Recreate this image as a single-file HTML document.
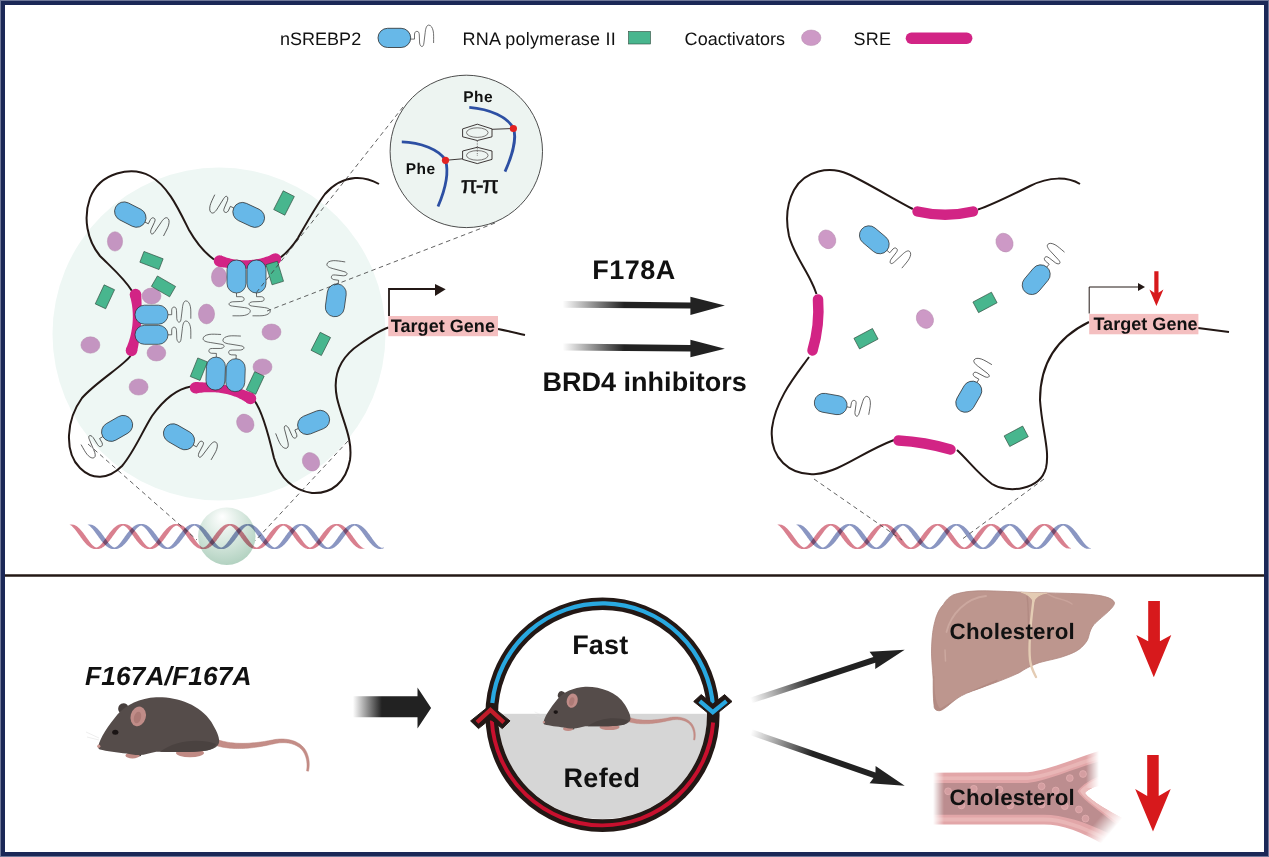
<!DOCTYPE html>
<html><head><meta charset="utf-8">
<style>
html,body{margin:0;padding:0;background:#fff;}
body{width:1269px;height:857px;overflow:hidden;}
svg{display:block;font-family:"Liberation Sans",sans-serif;text-rendering:geometricPrecision;}
</style></head>
<body>
<svg width="1269" height="857" viewBox="0 0 1269 857">
<defs>
  <rect id="cap" x="-16.5" y="-9.5" width="33" height="19" rx="9.5" fill="#67b8e8" stroke="#2b2b2b" stroke-width="0.7"/>
  <path id="sq" d="M0 0 H3.7 V-5 C4.2 -7.5 5.2 -7.6 6.3 -7.6 C7.7 -7.6 8.4 -6.5 8.5 -4 L8.8 4 C9.2 6.5 10.2 7.5 11.2 7.5 C12.2 7.5 12.9 6 13.1 4 L14.4 -6.5 C14.8 -11 16 -13.8 17.9 -13.8 C20.2 -13.8 21.6 -11.5 22.4 -8 C23 -5 22.8 -1 22.8 4" fill="none" stroke="#333" stroke-width="0.7"/>
  <linearGradient id="fadeR" x1="0" y1="0" x2="1" y2="0">
    <stop offset="0" stop-color="#222" stop-opacity="0"/>
    <stop offset="0.38" stop-color="#222" stop-opacity="1"/>
    <stop offset="1" stop-color="#222" stop-opacity="1"/>
  </linearGradient>
  <linearGradient id="fadeR2" x1="0" y1="0" x2="1" y2="0">
    <stop offset="0" stop-color="#222" stop-opacity="0"/>
    <stop offset="0.38" stop-color="#222" stop-opacity="1"/>
    <stop offset="1" stop-color="#222" stop-opacity="1"/>
  </linearGradient>
  <linearGradient id="fadeB" x1="0" y1="0" x2="1" y2="0">
    <stop offset="0" stop-color="#222" stop-opacity="0"/>
    <stop offset="0.37" stop-color="#222" stop-opacity="1"/>
    <stop offset="1" stop-color="#222" stop-opacity="1"/>
  </linearGradient>
  <linearGradient id="fadeO" x1="0" y1="0" x2="1" y2="0">
    <stop offset="0" stop-color="#222" stop-opacity="0"/>
    <stop offset="0.4" stop-color="#222" stop-opacity="1"/>
    <stop offset="1" stop-color="#222" stop-opacity="1"/>
  </linearGradient>
  <linearGradient id="fadeW" x1="0" y1="0" x2="1" y2="0">
    <stop offset="0" stop-color="#fff" stop-opacity="1"/>
    <stop offset="1" stop-color="#fff" stop-opacity="0"/>
  </linearGradient>
  <linearGradient id="fadeW2" x1="0" y1="0" x2="1" y2="0">
    <stop offset="0" stop-color="#fff" stop-opacity="0"/>
    <stop offset="1" stop-color="#fff" stop-opacity="1"/>
  </linearGradient>
  <linearGradient id="fadeW3" x1="0" y1="0" x2="1" y2="0.6">
    <stop offset="0" stop-color="#fff" stop-opacity="0"/>
    <stop offset="1" stop-color="#fff" stop-opacity="1"/>
  </linearGradient>
  <linearGradient id="mL" gradientUnits="userSpaceOnUse" x1="933" y1="0" x2="944" y2="0">
    <stop offset="0" stop-color="#000"/><stop offset="1" stop-color="#fff"/>
  </linearGradient>
  <linearGradient id="mU" gradientUnits="userSpaceOnUse" x1="1086" y1="0" x2="1099" y2="0">
    <stop offset="0" stop-color="#fff"/><stop offset="1" stop-color="#000"/>
  </linearGradient>
  <linearGradient id="mD" gradientUnits="userSpaceOnUse" x1="1098" y1="819" x2="1112" y2="831">
    <stop offset="0" stop-color="#fff"/><stop offset="1" stop-color="#000"/>
  </linearGradient>
  <radialGradient id="sph" cx="0.45" cy="0.35" r="0.7" fx="0.42" fy="0.15">
    <stop offset="0" stop-color="#ffffff" stop-opacity="0.9"/>
    <stop offset="0.5" stop-color="#d4e6dc" stop-opacity="0.9"/>
    <stop offset="1" stop-color="#a9ccb9" stop-opacity="0.95"/>
  </radialGradient>
</defs>
<rect x="0" y="0" width="1269" height="857" fill="#fff"/>
<text x="280" y="44.6" font-size="18" font-weight="normal" font-style="normal" fill="#111" textLength="81.15" lengthAdjust="spacing">nSREBP2</text>
<text x="462.6" y="44.6" font-size="18" font-weight="normal" font-style="normal" fill="#111" textLength="153.06" lengthAdjust="spacing">RNA polymerase II</text>
<text x="684.6" y="44.6" font-size="18" font-weight="normal" font-style="normal" fill="#111" textLength="100.45" lengthAdjust="spacing">Coactivators</text>
<text x="853.4" y="44.6" font-size="18" font-weight="normal" font-style="normal" fill="#111" textLength="37.52" lengthAdjust="spacing">SRE</text>
<rect x="378" y="28.3" width="32.7" height="19.2" rx="9.6" fill="#67b8e8" stroke="#2b2b2b" stroke-width="0.8"/>
<path d="M410.8 39.1 H414.5 V34 C415 31.5 416 31.4 417.1 31.4 C418.5 31.4 419.2 32.5 419.3 35 L419.6 43 C420 45.5 421 46.5 422 46.5 C423 46.5 423.7 45 423.9 43 L425.2 32.5 C425.6 28 426.8 25.1 428.7 25.1 C431 25.1 432.4 27.5 433.2 31 C433.8 34 433.6 38 433.6 43" fill="none" stroke="#333" stroke-width="0.7"/>
<rect x="628.5" y="31.5" width="22" height="12.5" fill="#48b68e" stroke="#2e4a3c" stroke-width="0.6"/>
<ellipse cx="811.2" cy="37.8" rx="9.7" ry="7.8" fill="#cd99c6" stroke="#b48aad" stroke-width="0.5"/>
<rect x="905.7" y="32.6" width="66.7" height="11.3" rx="5.65" fill="#d22485"/>
<circle cx="219" cy="334" r="166.5" fill="#eef7f4"/>
<circle cx="226.8" cy="536.3" r="28.7" fill="url(#sph)"/>
<path d="M69.70 524.71 L70.11 524.65 L70.54 524.60 L70.98 524.57 L71.43 524.55 L71.90 524.56 L72.38 524.59 L72.88 524.63 L73.39 524.70 L73.92 524.80 L74.45 524.91 L74.94 525.15 L75.42 525.41 L75.90 525.70 L76.38 526.02 L76.86 526.35 L77.33 526.71 L77.80 527.08 L78.26 527.48 L78.73 527.90 L79.18 528.33 L79.64 528.78 L80.09 529.24 L80.53 529.72 L80.97 530.21 L81.41 530.71 L81.84 531.22 L82.27 531.74 L82.70 532.27 L83.12 532.81 L83.54 533.35 L83.95 533.89 L84.36 534.44 L84.76 534.99 L85.16 535.54 L85.56 536.09 L85.95 536.64 L86.33 537.19 L86.72 537.73 L87.09 538.26 L87.47 538.79 L87.84 539.31 L88.20 539.82 L88.56 540.33 L88.92 540.82 L89.27 541.30 L89.62 541.76 L89.97 542.22 L90.31 542.66 L90.65 543.08 L90.98 543.49 L91.31 543.88 L91.64 544.25 L91.96 544.60 L92.28 544.94 L92.60 545.26 L92.92 545.56 L93.23 545.84 L93.55 546.10 L93.86 546.34 L94.17 546.56 L94.49 546.77 L94.81 546.95 L95.13 547.11 L95.46 547.26 L95.79 547.38 L96.14 547.49 L96.49 547.53 L96.84 547.44 L97.17 547.32 L97.51 547.19 L97.83 547.03 L98.15 546.86 L98.47 546.67 L98.78 546.45 L99.10 546.22 L99.41 545.97 L99.72 545.70 L100.04 545.41 L100.36 545.10 L100.68 544.77 L101.00 544.43 L101.32 544.06 L101.65 543.68 L101.98 543.28 L102.32 542.87 L102.66 542.44 L103.00 541.99 L103.35 541.53 L103.70 541.06 L104.06 540.57 L104.42 540.08 L104.78 539.57 L105.15 539.05 L105.52 538.53 L105.90 537.99 L106.28 537.46 L106.66 536.91 L107.05 536.37 L107.44 535.82 L107.84 535.27 L108.24 534.72 L108.65 534.17 L109.06 533.62 L109.47 533.08 L109.89 532.54 L110.31 532.01 L110.74 531.48 L111.17 530.97 L111.61 530.46 L112.05 529.96 L112.49 529.48 L112.94 529.01 L113.39 528.55 L113.85 528.11 L114.31 527.69 L114.77 527.28 L115.24 526.89 L115.71 526.53 L116.18 526.18 L116.66 525.86 L117.14 525.56 L117.62 525.28 L118.10 525.03 L118.59 524.80 L119.07 524.61 L119.56 524.44 L120.05 524.30 L120.53 524.19 L121.01 524.12 L121.49 524.07 L121.96 524.05 L122.42 524.07 L122.88 524.12 L123.32 524.12 L123.78 524.07 L124.24 524.05 L124.71 524.07 L125.19 524.12 L125.67 524.19 L126.15 524.30 L126.64 524.44 L127.13 524.61 L127.61 524.80 L128.10 525.03 L128.58 525.28 L129.06 525.56 L129.54 525.86 L130.02 526.18 L130.49 526.53 L130.96 526.89 L131.43 527.28 L131.89 527.69 L132.35 528.11 L132.81 528.55 L133.26 529.01 L133.71 529.48 L134.15 529.96 L134.59 530.46 L135.03 530.97 L135.46 531.48 L135.89 532.01 L136.31 532.54 L136.73 533.08 L137.14 533.62 L137.55 534.17 L137.96 534.72 L138.36 535.27 L138.76 535.82 L139.15 536.37 L139.54 536.91 L139.92 537.46 L140.30 537.99 L140.68 538.53 L141.05 539.05 L141.42 539.57 L141.78 540.08 L142.14 540.57 L142.50 541.06 L142.85 541.53 L143.20 541.99 L143.54 542.44 L143.88 542.87 L144.22 543.28 L144.55 543.68 L144.88 544.06 L145.20 544.43 L145.52 544.77 L145.84 545.10 L146.16 545.41 L146.48 545.70 L146.79 545.97 L147.10 546.22 L147.42 546.45 L147.73 546.67 L148.05 546.86 L148.37 547.03 L148.69 547.19 L149.03 547.32 L149.36 547.44 L149.71 547.53 L150.06 547.49 L150.41 547.38 L150.74 547.26 L151.07 547.11 L151.39 546.95 L151.71 546.77 L152.03 546.56 L152.34 546.34 L152.65 546.10 L152.97 545.84 L153.28 545.56 L153.60 545.26 L153.92 544.94 L154.24 544.60 L154.56 544.25 L154.89 543.88 L155.22 543.49 L155.55 543.08 L155.89 542.66 L156.23 542.22 L156.58 541.76 L156.93 541.30 L157.28 540.82 L157.64 540.33 L158.00 539.82 L158.36 539.31 L158.73 538.79 L159.11 538.26 L159.48 537.73 L159.87 537.19 L160.25 536.64 L160.64 536.09 L161.04 535.54 L161.44 534.99 L161.84 534.44 L162.25 533.89 L162.66 533.35 L163.08 532.81 L163.50 532.27 L163.93 531.74 L164.36 531.22 L164.79 530.71 L165.23 530.21 L165.67 529.72 L166.11 529.24 L166.56 528.78 L167.02 528.33 L167.47 527.90 L167.94 527.48 L168.40 527.08 L168.87 526.71 L169.34 526.35 L169.82 526.02 L170.30 525.70 L170.78 525.41 L171.26 525.15 L171.75 524.91 L172.23 524.70 L172.72 524.52 L173.20 524.37 L173.69 524.24 L174.17 524.15 L174.65 524.09 L175.12 524.06 L175.59 524.06 L176.05 524.09 L176.50 524.15 L176.95 524.09 L177.41 524.06 L177.88 524.06 L178.35 524.09 L178.83 524.15 L179.31 524.24 L179.80 524.37 L180.28 524.52 L180.77 524.70 L181.25 524.91 L181.74 525.15 L182.22 525.41 L182.70 525.70 L183.18 526.02 L183.66 526.35 L184.13 526.71 L184.60 527.08 L185.06 527.48 L185.53 527.90 L185.98 528.33 L186.44 528.78 L186.89 529.24 L187.33 529.72 L187.77 530.21 L188.21 530.71 L188.64 531.22 L189.07 531.74 L189.50 532.27 L189.92 532.81 L190.34 533.35 L190.75 533.89 L191.16 534.44 L191.56 534.99 L191.96 535.54 L192.36 536.09 L192.75 536.64 L193.13 537.19 L193.52 537.73 L193.89 538.26 L194.27 538.79 L194.64 539.31 L195.00 539.82 L195.36 540.33 L195.72 540.82 L196.07 541.30 L196.42 541.76 L196.77 542.22 L197.11 542.66 L197.45 543.08 L197.78 543.49 L198.11 543.88 L198.44 544.25 L198.76 544.60 L199.08 544.94 L199.40 545.26 L199.72 545.56 L200.03 545.84 L200.35 546.10 L200.66 546.34 L200.97 546.56 L201.29 546.77 L201.61 546.95 L201.93 547.11 L202.26 547.26 L202.59 547.38 L202.94 547.49 L203.29 547.53 L203.64 547.44 L203.97 547.32 L204.31 547.19 L204.63 547.03 L204.95 546.86 L205.27 546.67 L205.58 546.45 L205.90 546.22 L206.21 545.97 L206.52 545.70 L206.84 545.41 L207.16 545.10 L207.48 544.77 L207.80 544.43 L208.12 544.06 L208.45 543.68 L208.78 543.28 L209.12 542.87 L209.46 542.44 L209.80 541.99 L210.15 541.53 L210.50 541.06 L210.86 540.57 L211.22 540.08 L211.58 539.57 L211.95 539.05 L212.32 538.53 L212.70 537.99 L213.08 537.46 L213.46 536.91 L213.85 536.37 L214.24 535.82 L214.64 535.27 L215.04 534.72 L215.45 534.17 L215.86 533.62 L216.27 533.08 L216.69 532.54 L217.11 532.01 L217.54 531.48 L217.97 530.97 L218.41 530.46 L218.85 529.96 L219.29 529.48 L219.74 529.01 L220.19 528.55 L220.65 528.11 L221.11 527.69 L221.57 527.28 L222.04 526.89 L222.51 526.53 L222.98 526.18 L223.46 525.86 L223.94 525.56 L224.42 525.28 L224.90 525.03 L225.39 524.80 L225.87 524.61 L226.36 524.44 L226.85 524.30 L227.33 524.19 L227.81 524.12 L228.29 524.07 L228.76 524.05 L229.22 524.07 L229.68 524.12 L230.12 524.12 L230.58 524.07 L231.04 524.05 L231.51 524.07 L231.99 524.12 L232.47 524.19 L232.95 524.30 L233.44 524.44 L233.93 524.61 L234.41 524.80 L234.90 525.03 L235.38 525.28 L235.86 525.56 L236.34 525.86 L236.82 526.18 L237.29 526.53 L237.76 526.89 L238.23 527.28 L238.69 527.69 L239.15 528.11 L239.61 528.55 L240.06 529.01 L240.51 529.48 L240.95 529.96 L241.39 530.46 L241.83 530.97 L242.26 531.48 L242.69 532.01 L243.11 532.54 L243.53 533.08 L243.94 533.62 L244.35 534.17 L244.76 534.72 L245.16 535.27 L245.56 535.82 L245.95 536.37 L246.34 536.91 L246.72 537.46 L247.10 537.99 L247.48 538.53 L247.85 539.05 L248.22 539.57 L248.58 540.08 L248.94 540.57 L249.30 541.06 L249.65 541.53 L250.00 541.99 L250.34 542.44 L250.68 542.87 L251.02 543.28 L251.35 543.68 L251.68 544.06 L252.00 544.43 L252.32 544.77 L252.64 545.10 L252.96 545.41 L253.28 545.70 L253.59 545.97 L253.90 546.22 L254.22 546.45 L254.53 546.67 L254.85 546.86 L255.17 547.03 L255.49 547.19 L255.83 547.32 L256.16 547.44 L256.51 547.53 L256.86 547.49 L257.21 547.38 L257.54 547.26 L257.87 547.11 L258.19 546.95 L258.51 546.77 L258.83 546.56 L259.14 546.34 L259.45 546.10 L259.77 545.84 L260.08 545.56 L260.40 545.26 L260.72 544.94 L261.04 544.60 L261.36 544.25 L261.69 543.88 L262.02 543.49 L262.35 543.08 L262.69 542.66 L263.03 542.22 L263.38 541.76 L263.73 541.30 L264.08 540.82 L264.44 540.33 L264.80 539.82 L265.16 539.31 L265.53 538.79 L265.91 538.26 L266.28 537.73 L266.67 537.19 L267.05 536.64 L267.44 536.09 L267.84 535.54 L268.24 534.99 L268.64 534.44 L269.05 533.89 L269.46 533.35 L269.88 532.81 L270.30 532.27 L270.73 531.74 L271.16 531.22 L271.59 530.71 L272.03 530.21 L272.47 529.72 L272.91 529.24 L273.36 528.78 L273.82 528.33 L274.27 527.90 L274.74 527.48 L275.20 527.08 L275.67 526.71 L276.14 526.35 L276.62 526.02 L277.10 525.70 L277.58 525.41 L278.06 525.15 L278.55 524.91 L279.03 524.70 L279.52 524.52 L280.00 524.37 L280.49 524.24 L280.97 524.15 L281.45 524.09 L281.92 524.06 L282.39 524.06 L282.85 524.09 L283.30 524.15 L283.75 524.09 L284.21 524.06 L284.68 524.06 L285.15 524.09 L285.63 524.15 L286.11 524.24 L286.60 524.37 L287.08 524.52 L287.57 524.70 L288.05 524.91 L288.54 525.15 L289.02 525.41 L289.50 525.70 L289.98 526.02 L290.46 526.35 L290.93 526.71 L291.40 527.08 L291.86 527.48 L292.33 527.90 L292.78 528.33 L293.24 528.78 L293.69 529.24 L294.13 529.72 L294.57 530.21 L295.01 530.71 L295.44 531.22 L295.87 531.74 L296.30 532.27 L296.72 532.81 L297.14 533.35 L297.55 533.89 L297.96 534.44 L298.36 534.99 L298.76 535.54 L299.16 536.09 L299.55 536.64 L299.93 537.19 L300.32 537.73 L300.69 538.26 L301.07 538.79 L301.44 539.31 L301.80 539.82 L302.16 540.33 L302.52 540.82 L302.87 541.30 L303.22 541.76 L303.57 542.22 L303.91 542.66 L304.25 543.08 L304.58 543.49 L304.91 543.88 L305.24 544.25 L305.56 544.60 L305.88 544.94 L306.20 545.26 L306.52 545.56 L306.83 545.84 L307.15 546.10 L307.46 546.34 L307.77 546.56 L308.09 546.77 L308.41 546.95 L308.73 547.11 L309.06 547.26 L309.39 547.38 L309.74 547.49 L310.09 547.53 L310.44 547.44 L310.77 547.32 L311.11 547.19 L311.43 547.03 L311.75 546.86 L312.07 546.67 L312.38 546.45 L312.70 546.22 L313.01 545.97 L313.32 545.70 L313.64 545.41 L313.96 545.10 L314.28 544.77 L314.60 544.43 L314.92 544.06 L315.25 543.68 L315.58 543.28 L315.92 542.87 L316.26 542.44 L316.60 541.99 L316.95 541.53 L317.30 541.06 L317.66 540.57 L318.02 540.08 L318.38 539.57 L318.75 539.05 L319.12 538.53 L319.50 537.99 L319.88 537.46 L320.26 536.91 L320.65 536.37 L321.04 535.82 L321.44 535.27 L321.84 534.72 L322.25 534.17 L322.66 533.62 L323.07 533.08 L323.49 532.54 L323.91 532.01 L324.34 531.48 L324.77 530.97 L325.21 530.46 L325.65 529.96 L326.09 529.48 L326.54 529.01 L326.99 528.55 L327.45 528.11 L327.91 527.69 L328.37 527.28 L328.84 526.89 L329.31 526.53 L329.78 526.18 L330.26 525.86 L330.74 525.56 L331.22 525.28 L331.70 525.03 L332.19 524.80 L332.67 524.61 L333.16 524.44 L333.65 524.30 L334.13 524.19 L334.61 524.12 L335.09 524.07 L335.56 524.05 L336.02 524.07 L336.48 524.12 L336.92 524.12 L337.38 524.07 L337.84 524.05 L338.31 524.07 L338.79 524.12 L339.27 524.19 L339.75 524.30 L340.24 524.44 L340.73 524.61 L341.21 524.80 L341.70 525.03 L342.18 525.28 L342.66 525.56 L343.14 525.86 L343.62 526.18 L344.09 526.53 L344.56 526.89 L345.03 527.28 L345.49 527.69 L345.95 528.11 L346.41 528.55 L346.86 529.01 L347.31 529.48 L347.75 529.96 L348.19 530.46 L348.63 530.97 L349.06 531.48 L349.49 532.01 L349.91 532.54 L350.33 533.08 L350.74 533.62 L351.15 534.17 L351.56 534.72 L351.96 535.27 L352.36 535.82 L352.75 536.37 L353.14 536.91 L353.52 537.46 L353.90 537.99 L354.28 538.53 L354.65 539.05 L355.02 539.57 L355.38 540.08 L355.74 540.57 L356.10 541.06 L356.45 541.53 L356.80 541.99 L357.14 542.44 L357.48 542.87 L357.82 543.28 L358.15 543.68 L358.48 544.06 L358.80 544.43 L359.12 544.77 L359.44 545.10 L359.76 545.41 L360.08 545.70 L360.39 545.97 L360.70 546.22 L361.02 546.45 L361.30 546.75 L361.59 547.03 L361.90 547.27 L362.23 547.49 L362.58 547.67 L362.93 547.82 L363.31 547.93 L363.69 547.97 L364.07 547.98 L364.47 547.97 L364.53 548.33 L364.13 548.44 L363.71 548.51 L363.29 548.57 L362.87 548.64 L362.42 548.70 L361.97 548.74 L361.50 548.76 L361.01 548.76 L360.50 548.74 L359.98 548.70 L359.50 548.54 L359.01 548.35 L358.52 548.13 L358.04 547.89 L357.56 547.62 L357.08 547.32 L356.60 547.00 L356.12 546.66 L355.65 546.30 L355.18 545.92 L354.72 545.52 L354.26 545.10 L353.80 544.66 L353.35 544.21 L352.90 543.74 L352.46 543.26 L352.02 542.77 L351.58 542.26 L351.15 541.75 L350.72 541.23 L350.30 540.69 L349.88 540.16 L349.46 539.62 L349.05 539.07 L348.64 538.52 L348.24 537.97 L347.84 537.42 L347.45 536.87 L347.06 536.32 L346.67 535.78 L346.29 535.24 L345.91 534.71 L345.54 534.18 L345.17 533.66 L344.81 533.15 L344.45 532.65 L344.09 532.16 L343.74 531.68 L343.39 531.22 L343.05 530.77 L342.71 530.34 L342.37 529.92 L342.04 529.51 L341.71 529.13 L341.38 528.76 L341.06 528.41 L340.74 528.08 L340.42 527.77 L340.10 527.47 L339.79 527.20 L339.47 526.94 L339.16 526.70 L338.85 526.48 L338.53 526.29 L338.21 526.11 L337.89 525.95 L337.56 525.81 L337.22 525.69 L336.88 525.59 L336.52 525.59 L336.18 525.69 L335.84 525.81 L335.51 525.95 L335.19 526.11 L334.87 526.29 L334.55 526.48 L334.24 526.70 L333.93 526.94 L333.61 527.20 L333.30 527.47 L332.98 527.77 L332.66 528.08 L332.34 528.41 L332.02 528.76 L331.69 529.13 L331.36 529.51 L331.03 529.92 L330.69 530.34 L330.35 530.77 L330.01 531.22 L329.66 531.68 L329.31 532.16 L328.95 532.65 L328.59 533.15 L328.23 533.66 L327.86 534.18 L327.49 534.71 L327.11 535.24 L326.73 535.78 L326.34 536.32 L325.95 536.87 L325.56 537.42 L325.16 537.97 L324.76 538.52 L324.35 539.07 L323.94 539.62 L323.52 540.16 L323.10 540.69 L322.68 541.23 L322.25 541.75 L321.82 542.26 L321.38 542.77 L320.94 543.26 L320.50 543.74 L320.05 544.21 L319.60 544.66 L319.14 545.10 L318.68 545.52 L318.22 545.92 L317.75 546.30 L317.28 546.66 L316.80 547.00 L316.32 547.32 L315.84 547.62 L315.36 547.89 L314.88 548.13 L314.39 548.35 L313.90 548.54 L313.42 548.70 L312.93 548.83 L312.45 548.93 L311.97 549.00 L311.49 549.04 L311.03 549.04 L310.56 549.02 L310.11 548.97 L309.66 549.00 L309.21 549.04 L308.74 549.04 L308.27 549.02 L307.79 548.97 L307.31 548.88 L306.83 548.77 L306.34 548.62 L305.85 548.45 L305.37 548.24 L304.88 548.01 L304.40 547.75 L303.92 547.47 L303.44 547.17 L302.96 546.84 L302.49 546.48 L302.02 546.11 L301.55 545.72 L301.09 545.31 L300.63 544.88 L300.18 544.44 L299.73 543.98 L299.28 543.50 L298.84 543.01 L298.40 542.52 L297.96 542.01 L297.53 541.49 L297.11 540.96 L296.68 540.43 L296.27 539.89 L295.85 539.34 L295.44 538.80 L295.04 538.25 L294.64 537.70 L294.24 537.14 L293.85 536.60 L293.46 536.05 L293.08 535.51 L292.70 534.97 L292.33 534.44 L291.96 533.92 L291.59 533.40 L291.23 532.90 L290.87 532.40 L290.51 531.92 L290.16 531.45 L289.82 530.99 L289.47 530.55 L289.14 530.13 L288.80 529.71 L288.47 529.32 L288.14 528.94 L287.82 528.58 L287.50 528.24 L287.18 527.92 L286.86 527.62 L286.55 527.33 L286.23 527.07 L285.92 526.82 L285.60 526.59 L285.29 526.38 L284.97 526.19 L284.65 526.02 L284.32 525.87 L283.99 525.75 L283.65 525.64 L283.30 525.55 L282.95 525.64 L282.61 525.75 L282.28 525.87 L281.95 526.02 L281.63 526.19 L281.31 526.38 L281.00 526.59 L280.68 526.82 L280.37 527.07 L280.05 527.33 L279.74 527.62 L279.42 527.92 L279.10 528.24 L278.78 528.58 L278.46 528.94 L278.13 529.32 L277.80 529.71 L277.46 530.13 L277.13 530.55 L276.78 530.99 L276.44 531.45 L276.09 531.92 L275.73 532.40 L275.37 532.90 L275.01 533.40 L274.64 533.92 L274.27 534.44 L273.90 534.97 L273.52 535.51 L273.14 536.05 L272.75 536.60 L272.36 537.14 L271.96 537.70 L271.56 538.25 L271.16 538.80 L270.75 539.34 L270.33 539.89 L269.92 540.43 L269.49 540.96 L269.07 541.49 L268.64 542.01 L268.20 542.52 L267.76 543.01 L267.32 543.50 L266.87 543.98 L266.42 544.44 L265.97 544.88 L265.51 545.31 L265.05 545.72 L264.58 546.11 L264.11 546.48 L263.64 546.84 L263.16 547.17 L262.68 547.47 L262.20 547.75 L261.72 548.01 L261.23 548.24 L260.75 548.45 L260.26 548.62 L259.77 548.77 L259.29 548.88 L258.81 548.97 L258.33 549.02 L257.86 549.04 L257.39 549.04 L256.94 549.00 L256.49 548.97 L256.04 549.02 L255.57 549.04 L255.11 549.04 L254.63 549.00 L254.15 548.93 L253.67 548.83 L253.18 548.70 L252.70 548.54 L252.21 548.35 L251.72 548.13 L251.24 547.89 L250.76 547.62 L250.28 547.32 L249.80 547.00 L249.32 546.66 L248.85 546.30 L248.38 545.92 L247.92 545.52 L247.46 545.10 L247.00 544.66 L246.55 544.21 L246.10 543.74 L245.66 543.26 L245.22 542.77 L244.78 542.26 L244.35 541.75 L243.92 541.23 L243.50 540.69 L243.08 540.16 L242.66 539.62 L242.25 539.07 L241.84 538.52 L241.44 537.97 L241.04 537.42 L240.65 536.87 L240.26 536.32 L239.87 535.78 L239.49 535.24 L239.11 534.71 L238.74 534.18 L238.37 533.66 L238.01 533.15 L237.65 532.65 L237.29 532.16 L236.94 531.68 L236.59 531.22 L236.25 530.77 L235.91 530.34 L235.57 529.92 L235.24 529.51 L234.91 529.13 L234.58 528.76 L234.26 528.41 L233.94 528.08 L233.62 527.77 L233.30 527.47 L232.99 527.20 L232.67 526.94 L232.36 526.70 L232.05 526.48 L231.73 526.29 L231.41 526.11 L231.09 525.95 L230.76 525.81 L230.42 525.69 L230.08 525.59 L229.72 525.59 L229.38 525.69 L229.04 525.81 L228.71 525.95 L228.39 526.11 L228.07 526.29 L227.75 526.48 L227.44 526.70 L227.13 526.94 L226.81 527.20 L226.50 527.47 L226.18 527.77 L225.86 528.08 L225.54 528.41 L225.22 528.76 L224.89 529.13 L224.56 529.51 L224.23 529.92 L223.89 530.34 L223.55 530.77 L223.21 531.22 L222.86 531.68 L222.51 532.16 L222.15 532.65 L221.79 533.15 L221.43 533.66 L221.06 534.18 L220.69 534.71 L220.31 535.24 L219.93 535.78 L219.54 536.32 L219.15 536.87 L218.76 537.42 L218.36 537.97 L217.96 538.52 L217.55 539.07 L217.14 539.62 L216.72 540.16 L216.30 540.69 L215.88 541.23 L215.45 541.75 L215.02 542.26 L214.58 542.77 L214.14 543.26 L213.70 543.74 L213.25 544.21 L212.80 544.66 L212.34 545.10 L211.88 545.52 L211.42 545.92 L210.95 546.30 L210.48 546.66 L210.00 547.00 L209.52 547.32 L209.04 547.62 L208.56 547.89 L208.08 548.13 L207.59 548.35 L207.10 548.54 L206.62 548.70 L206.13 548.83 L205.65 548.93 L205.17 549.00 L204.69 549.04 L204.23 549.04 L203.76 549.02 L203.31 548.97 L202.86 549.00 L202.41 549.04 L201.94 549.04 L201.47 549.02 L200.99 548.97 L200.51 548.88 L200.03 548.77 L199.54 548.62 L199.05 548.45 L198.57 548.24 L198.08 548.01 L197.60 547.75 L197.12 547.47 L196.64 547.17 L196.16 546.84 L195.69 546.48 L195.22 546.11 L194.75 545.72 L194.29 545.31 L193.83 544.88 L193.38 544.44 L192.93 543.98 L192.48 543.50 L192.04 543.01 L191.60 542.52 L191.16 542.01 L190.73 541.49 L190.31 540.96 L189.88 540.43 L189.47 539.89 L189.05 539.34 L188.64 538.80 L188.24 538.25 L187.84 537.70 L187.44 537.14 L187.05 536.60 L186.66 536.05 L186.28 535.51 L185.90 534.97 L185.53 534.44 L185.16 533.92 L184.79 533.40 L184.43 532.90 L184.07 532.40 L183.71 531.92 L183.36 531.45 L183.02 530.99 L182.67 530.55 L182.34 530.13 L182.00 529.71 L181.67 529.32 L181.34 528.94 L181.02 528.58 L180.70 528.24 L180.38 527.92 L180.06 527.62 L179.75 527.33 L179.43 527.07 L179.12 526.82 L178.80 526.59 L178.49 526.38 L178.17 526.19 L177.85 526.02 L177.52 525.87 L177.19 525.75 L176.85 525.64 L176.50 525.55 L176.15 525.64 L175.81 525.75 L175.48 525.87 L175.15 526.02 L174.83 526.19 L174.51 526.38 L174.20 526.59 L173.88 526.82 L173.57 527.07 L173.25 527.33 L172.94 527.62 L172.62 527.92 L172.30 528.24 L171.98 528.58 L171.66 528.94 L171.33 529.32 L171.00 529.71 L170.66 530.13 L170.33 530.55 L169.98 530.99 L169.64 531.45 L169.29 531.92 L168.93 532.40 L168.57 532.90 L168.21 533.40 L167.84 533.92 L167.47 534.44 L167.10 534.97 L166.72 535.51 L166.34 536.05 L165.95 536.60 L165.56 537.14 L165.16 537.70 L164.76 538.25 L164.36 538.80 L163.95 539.34 L163.53 539.89 L163.12 540.43 L162.69 540.96 L162.27 541.49 L161.84 542.01 L161.40 542.52 L160.96 543.01 L160.52 543.50 L160.07 543.98 L159.62 544.44 L159.17 544.88 L158.71 545.31 L158.25 545.72 L157.78 546.11 L157.31 546.48 L156.84 546.84 L156.36 547.17 L155.88 547.47 L155.40 547.75 L154.92 548.01 L154.43 548.24 L153.95 548.45 L153.46 548.62 L152.97 548.77 L152.49 548.88 L152.01 548.97 L151.53 549.02 L151.06 549.04 L150.59 549.04 L150.14 549.00 L149.69 548.97 L149.24 549.02 L148.77 549.04 L148.31 549.04 L147.83 549.00 L147.35 548.93 L146.87 548.83 L146.38 548.70 L145.90 548.54 L145.41 548.35 L144.92 548.13 L144.44 547.89 L143.96 547.62 L143.48 547.32 L143.00 547.00 L142.52 546.66 L142.05 546.30 L141.58 545.92 L141.12 545.52 L140.66 545.10 L140.20 544.66 L139.75 544.21 L139.30 543.74 L138.86 543.26 L138.42 542.77 L137.98 542.26 L137.55 541.75 L137.12 541.23 L136.70 540.69 L136.28 540.16 L135.86 539.62 L135.45 539.07 L135.04 538.52 L134.64 537.97 L134.24 537.42 L133.85 536.87 L133.46 536.32 L133.07 535.78 L132.69 535.24 L132.31 534.71 L131.94 534.18 L131.57 533.66 L131.21 533.15 L130.85 532.65 L130.49 532.16 L130.14 531.68 L129.79 531.22 L129.45 530.77 L129.11 530.34 L128.77 529.92 L128.44 529.51 L128.11 529.13 L127.78 528.76 L127.46 528.41 L127.14 528.08 L126.82 527.77 L126.50 527.47 L126.19 527.20 L125.87 526.94 L125.56 526.70 L125.25 526.48 L124.93 526.29 L124.61 526.11 L124.29 525.95 L123.96 525.81 L123.62 525.69 L123.28 525.59 L122.92 525.59 L122.58 525.69 L122.24 525.81 L121.91 525.95 L121.59 526.11 L121.27 526.29 L120.95 526.48 L120.64 526.70 L120.33 526.94 L120.01 527.20 L119.70 527.47 L119.38 527.77 L119.06 528.08 L118.74 528.41 L118.42 528.76 L118.09 529.13 L117.76 529.51 L117.43 529.92 L117.09 530.34 L116.75 530.77 L116.41 531.22 L116.06 531.68 L115.71 532.16 L115.35 532.65 L114.99 533.15 L114.63 533.66 L114.26 534.18 L113.89 534.71 L113.51 535.24 L113.13 535.78 L112.74 536.32 L112.35 536.87 L111.96 537.42 L111.56 537.97 L111.16 538.52 L110.75 539.07 L110.34 539.62 L109.92 540.16 L109.50 540.69 L109.08 541.23 L108.65 541.75 L108.22 542.26 L107.78 542.77 L107.34 543.26 L106.90 543.74 L106.45 544.21 L106.00 544.66 L105.54 545.10 L105.08 545.52 L104.62 545.92 L104.15 546.30 L103.68 546.66 L103.20 547.00 L102.72 547.32 L102.24 547.62 L101.76 547.89 L101.28 548.13 L100.79 548.35 L100.30 548.54 L99.82 548.70 L99.33 548.83 L98.85 548.93 L98.37 549.00 L97.89 549.04 L97.43 549.04 L96.96 549.02 L96.51 548.97 L96.06 549.00 L95.61 549.04 L95.14 549.04 L94.67 549.02 L94.19 548.97 L93.71 548.88 L93.23 548.77 L92.74 548.62 L92.25 548.45 L91.77 548.24 L91.28 548.01 L90.80 547.75 L90.32 547.47 L89.84 547.17 L89.36 546.84 L88.89 546.48 L88.42 546.11 L87.95 545.72 L87.49 545.31 L87.03 544.88 L86.58 544.44 L86.13 543.98 L85.68 543.50 L85.24 543.01 L84.80 542.52 L84.36 542.01 L83.93 541.49 L83.51 540.96 L83.08 540.43 L82.67 539.89 L82.25 539.34 L81.84 538.80 L81.44 538.25 L81.04 537.70 L80.64 537.14 L80.25 536.60 L79.86 536.05 L79.48 535.51 L79.10 534.97 L78.73 534.44 L78.36 533.92 L77.99 533.40 L77.63 532.90 L77.27 532.40 L76.91 531.92 L76.56 531.45 L76.22 530.99 L75.87 530.55 L75.54 530.13 L75.20 529.71 L74.87 529.32 L74.54 528.94 L74.22 528.58 L73.90 528.24 L73.58 527.92 L73.26 527.62 L72.95 527.33 L72.68 526.97 L72.41 526.64 L72.12 526.32 L71.82 526.04 L71.50 525.79 L71.17 525.56 L70.82 525.37 L70.46 525.21 L70.09 525.08 L69.70 524.99Z" fill="#d9808f" style="mix-blend-mode:multiply"/><path d="M87.70 524.71 L88.11 524.65 L88.54 524.60 L88.98 524.57 L89.43 524.55 L89.90 524.56 L90.38 524.59 L90.88 524.63 L91.39 524.70 L91.92 524.80 L92.46 524.92 L92.95 525.15 L93.43 525.42 L93.91 525.71 L94.39 526.02 L94.86 526.36 L95.34 526.71 L95.81 527.09 L96.27 527.49 L96.73 527.91 L97.19 528.34 L97.65 528.79 L98.10 529.25 L98.54 529.73 L98.98 530.22 L99.42 530.72 L99.86 531.24 L100.29 531.76 L100.71 532.29 L101.13 532.82 L101.55 533.36 L101.96 533.91 L102.37 534.46 L102.77 535.01 L103.17 535.56 L103.57 536.11 L103.96 536.66 L104.35 537.21 L104.73 537.75 L105.11 538.28 L105.48 538.81 L105.85 539.33 L106.22 539.85 L106.58 540.35 L106.94 540.84 L107.29 541.32 L107.64 541.79 L107.98 542.24 L108.33 542.68 L108.66 543.10 L109.00 543.51 L109.33 543.90 L109.66 544.27 L109.98 544.62 L110.30 544.96 L110.62 545.27 L110.94 545.57 L111.25 545.85 L111.57 546.11 L111.88 546.35 L112.19 546.58 L112.51 546.78 L112.83 546.96 L113.15 547.12 L113.48 547.27 L113.82 547.39 L114.16 547.49 L114.51 547.52 L114.86 547.43 L115.20 547.32 L115.53 547.18 L115.85 547.02 L116.17 546.85 L116.49 546.65 L116.81 546.44 L117.12 546.20 L117.43 545.95 L117.75 545.68 L118.06 545.39 L118.38 545.08 L118.70 544.75 L119.03 544.40 L119.35 544.03 L119.68 543.65 L120.01 543.25 L120.35 542.83 L120.69 542.40 L121.03 541.95 L121.38 541.49 L121.73 541.02 L122.09 540.53 L122.45 540.03 L122.81 539.52 L123.18 539.00 L123.56 538.48 L123.93 537.94 L124.31 537.40 L124.70 536.86 L125.09 536.31 L125.48 535.76 L125.88 535.21 L126.28 534.66 L126.69 534.11 L127.10 533.56 L127.52 533.02 L127.93 532.48 L128.36 531.95 L128.79 531.43 L129.22 530.91 L129.66 530.40 L130.10 529.91 L130.54 529.42 L130.99 528.96 L131.44 528.50 L131.90 528.06 L132.36 527.64 L132.82 527.23 L133.29 526.85 L133.76 526.48 L134.24 526.14 L134.71 525.82 L135.19 525.52 L135.68 525.25 L136.16 525.00 L136.65 524.78 L137.14 524.58 L137.62 524.42 L138.11 524.29 L138.59 524.18 L139.07 524.11 L139.55 524.07 L140.02 524.05 L140.48 524.07 L140.94 524.12 L141.39 524.11 L141.84 524.07 L142.31 524.05 L142.78 524.07 L143.26 524.12 L143.74 524.21 L144.22 524.32 L144.71 524.46 L145.20 524.63 L145.68 524.83 L146.17 525.06 L146.65 525.32 L147.14 525.60 L147.61 525.90 L148.09 526.23 L148.57 526.58 L149.04 526.95 L149.50 527.34 L149.97 527.75 L150.43 528.18 L150.88 528.62 L151.33 529.08 L151.78 529.55 L152.22 530.04 L152.66 530.54 L153.10 531.05 L153.53 531.57 L153.96 532.09 L154.38 532.63 L154.80 533.17 L155.21 533.71 L155.62 534.26 L156.03 534.81 L156.43 535.36 L156.83 535.91 L157.22 536.46 L157.61 537.01 L157.99 537.55 L158.37 538.09 L158.75 538.62 L159.12 539.14 L159.48 539.66 L159.85 540.17 L160.21 540.66 L160.56 541.15 L160.91 541.62 L161.26 542.08 L161.60 542.52 L161.94 542.95 L162.28 543.36 L162.61 543.76 L162.94 544.13 L163.26 544.49 L163.58 544.84 L163.90 545.16 L164.22 545.47 L164.54 545.75 L164.85 546.02 L165.16 546.27 L165.48 546.50 L165.79 546.71 L166.11 546.90 L166.43 547.07 L166.76 547.22 L167.09 547.35 L167.43 547.46 L167.78 547.55 L168.13 547.47 L168.48 547.36 L168.81 547.23 L169.14 547.08 L169.46 546.91 L169.78 546.72 L170.09 546.52 L170.41 546.29 L170.72 546.04 L171.03 545.78 L171.35 545.49 L171.67 545.19 L171.98 544.87 L172.31 544.53 L172.63 544.17 L172.96 543.79 L173.29 543.40 L173.63 542.99 L173.97 542.56 L174.31 542.12 L174.65 541.66 L175.01 541.19 L175.36 540.71 L175.72 540.21 L176.08 539.71 L176.45 539.19 L176.82 538.67 L177.19 538.14 L177.57 537.60 L177.96 537.06 L178.35 536.51 L178.74 535.96 L179.13 535.41 L179.53 534.86 L179.94 534.31 L180.35 533.76 L180.76 533.22 L181.18 532.68 L181.60 532.14 L182.03 531.62 L182.46 531.10 L182.90 530.59 L183.33 530.09 L183.78 529.60 L184.23 529.13 L184.68 528.66 L185.13 528.22 L185.59 527.79 L186.05 527.38 L186.52 526.99 L186.99 526.61 L187.46 526.26 L187.94 525.93 L188.42 525.63 L188.90 525.34 L189.39 525.09 L189.87 524.86 L190.36 524.65 L190.85 524.48 L191.33 524.33 L191.82 524.22 L192.30 524.13 L192.78 524.08 L193.25 524.06 L193.71 524.06 L194.17 524.10 L194.62 524.13 L195.07 524.08 L195.54 524.06 L196.00 524.06 L196.48 524.10 L196.96 524.17 L197.44 524.27 L197.93 524.41 L198.42 524.57 L198.90 524.76 L199.39 524.98 L199.88 525.22 L200.36 525.49 L200.84 525.79 L201.32 526.11 L201.79 526.45 L202.26 526.81 L202.73 527.20 L203.20 527.60 L203.66 528.02 L204.12 528.46 L204.57 528.91 L205.02 529.38 L205.46 529.86 L205.90 530.36 L206.34 530.86 L206.77 531.38 L207.20 531.90 L207.63 532.43 L208.05 532.97 L208.46 533.51 L208.87 534.06 L209.28 534.61 L209.68 535.16 L210.08 535.71 L210.48 536.26 L210.87 536.81 L211.25 537.35 L211.63 537.89 L212.01 538.43 L212.38 538.95 L212.75 539.47 L213.12 539.98 L213.48 540.48 L213.83 540.97 L214.18 541.45 L214.53 541.91 L214.88 542.36 L215.22 542.79 L215.56 543.21 L215.89 543.61 L216.22 544.00 L216.54 544.37 L216.87 544.71 L217.19 545.05 L217.51 545.36 L217.82 545.65 L218.14 545.92 L218.45 546.18 L218.76 546.42 L219.08 546.63 L219.39 546.83 L219.71 547.01 L220.04 547.17 L220.37 547.30 L220.71 547.42 L221.05 547.52 L221.41 547.50 L221.75 547.40 L222.09 547.28 L222.42 547.14 L222.74 546.98 L223.06 546.80 L223.38 546.60 L223.69 546.38 L224.01 546.14 L224.32 545.88 L224.63 545.60 L224.95 545.30 L225.27 544.99 L225.59 544.65 L225.91 544.30 L226.24 543.93 L226.57 543.54 L226.90 543.14 L227.24 542.72 L227.58 542.28 L227.93 541.83 L228.28 541.36 L228.63 540.89 L228.99 540.40 L229.35 539.89 L229.71 539.38 L230.08 538.86 L230.46 538.33 L230.83 537.80 L231.22 537.26 L231.60 536.71 L231.99 536.16 L232.39 535.61 L232.79 535.06 L233.19 534.51 L233.60 533.96 L234.01 533.42 L234.43 532.87 L234.85 532.34 L235.27 531.81 L235.70 531.28 L236.14 530.77 L236.57 530.27 L237.02 529.78 L237.46 529.30 L237.91 528.83 L238.37 528.38 L238.82 527.95 L239.28 527.53 L239.75 527.13 L240.22 526.75 L240.69 526.39 L241.17 526.05 L241.64 525.74 L242.13 525.44 L242.61 525.18 L243.09 524.94 L243.58 524.72 L244.07 524.54 L244.56 524.38 L245.04 524.25 L245.52 524.16 L246.00 524.09 L246.48 524.06 L246.95 524.06 L247.41 524.09 L247.86 524.14 L248.31 524.09 L248.77 524.06 L249.23 524.06 L249.71 524.08 L250.18 524.14 L250.67 524.23 L251.15 524.35 L251.64 524.51 L252.13 524.69 L252.61 524.89 L253.10 525.13 L253.58 525.39 L254.07 525.68 L254.54 525.99 L255.02 526.32 L255.49 526.68 L255.96 527.05 L256.43 527.45 L256.89 527.87 L257.35 528.30 L257.80 528.74 L258.25 529.21 L258.70 529.68 L259.14 530.17 L259.58 530.68 L260.02 531.19 L260.45 531.71 L260.87 532.24 L261.29 532.77 L261.71 533.31 L262.12 533.86 L262.53 534.41 L262.94 534.96 L263.34 535.51 L263.73 536.06 L264.12 536.61 L264.51 537.15 L264.89 537.70 L265.27 538.23 L265.65 538.76 L266.02 539.28 L266.38 539.80 L266.75 540.30 L267.10 540.79 L267.46 541.27 L267.81 541.74 L268.15 542.20 L268.49 542.64 L268.83 543.06 L269.17 543.47 L269.50 543.86 L269.83 544.23 L270.15 544.59 L270.47 544.93 L270.79 545.25 L271.11 545.55 L271.42 545.83 L271.74 546.09 L272.05 546.33 L272.36 546.56 L272.68 546.76 L273.00 546.94 L273.32 547.11 L273.65 547.26 L273.98 547.38 L274.33 547.48 L274.68 547.53 L275.03 547.44 L275.37 547.33 L275.70 547.19 L276.02 547.04 L276.34 546.86 L276.66 546.67 L276.98 546.46 L277.29 546.23 L277.60 545.97 L277.92 545.70 L278.23 545.41 L278.55 545.11 L278.87 544.78 L279.19 544.43 L279.52 544.07 L279.85 543.69 L280.18 543.29 L280.52 542.87 L280.86 542.44 L281.20 542.00 L281.55 541.54 L281.90 541.06 L282.26 540.58 L282.62 540.08 L282.98 539.57 L283.35 539.05 L283.72 538.53 L284.10 537.99 L284.48 537.46 L284.86 536.91 L285.25 536.36 L285.64 535.81 L286.04 535.26 L286.44 534.71 L286.85 534.16 L287.26 533.62 L287.68 533.07 L288.10 532.53 L288.52 532.00 L288.95 531.47 L289.38 530.96 L289.81 530.45 L290.25 529.95 L290.70 529.47 L291.15 529.00 L291.60 528.54 L292.06 528.10 L292.52 527.68 L292.98 527.27 L293.45 526.88 L293.92 526.52 L294.39 526.17 L294.87 525.85 L295.35 525.55 L295.83 525.27 L296.32 525.02 L296.80 524.80 L297.29 524.60 L297.78 524.43 L298.26 524.30 L298.75 524.19 L299.23 524.11 L299.71 524.07 L300.18 524.05 L300.64 524.07 L301.09 524.12 L301.54 524.11 L302.00 524.07 L302.46 524.05 L302.93 524.07 L303.41 524.12 L303.89 524.20 L304.38 524.31 L304.86 524.45 L305.35 524.62 L305.84 524.81 L306.32 525.04 L306.81 525.29 L307.29 525.57 L307.77 525.87 L308.25 526.20 L308.72 526.55 L309.19 526.92 L309.66 527.30 L310.12 527.71 L310.58 528.14 L311.04 528.58 L311.49 529.04 L311.94 529.51 L312.38 529.99 L312.82 530.49 L313.26 531.00 L313.69 531.52 L314.12 532.04 L314.54 532.58 L314.96 533.12 L315.37 533.66 L315.78 534.21 L316.19 534.76 L316.59 535.31 L316.99 535.86 L317.38 536.41 L317.77 536.96 L318.15 537.50 L318.53 538.04 L318.91 538.57 L319.28 539.09 L319.65 539.61 L320.01 540.12 L320.37 540.62 L320.73 541.10 L321.08 541.57 L321.43 542.03 L321.77 542.48 L322.11 542.91 L322.45 543.32 L322.78 543.72 L323.11 544.10 L323.43 544.46 L323.75 544.81 L324.07 545.13 L324.39 545.44 L324.71 545.73 L325.02 546.00 L325.33 546.25 L325.65 546.48 L325.96 546.69 L326.28 546.88 L326.60 547.05 L326.93 547.20 L327.26 547.34 L327.60 547.45 L327.95 547.54 L328.30 547.48 L328.64 547.37 L328.98 547.24 L329.31 547.10 L329.63 546.93 L329.95 546.74 L330.26 546.54 L330.58 546.31 L330.89 546.07 L331.20 545.80 L331.52 545.52 L331.84 545.22 L332.15 544.90 L332.48 544.56 L332.80 544.20 L333.13 543.83 L333.46 543.44 L333.79 543.03 L334.13 542.60 L334.48 542.16 L334.82 541.71 L335.17 541.24 L335.53 540.75 L335.88 540.26 L336.25 539.76 L336.61 539.24 L336.98 538.72 L337.36 538.19 L337.74 537.65 L338.12 537.11 L338.51 536.56 L338.90 536.02 L339.30 535.46 L339.70 534.91 L340.10 534.36 L340.51 533.81 L340.92 533.27 L341.34 532.73 L341.76 532.19 L342.19 531.67 L342.62 531.15 L343.05 530.63 L343.49 530.13 L343.94 529.65 L344.38 529.17 L344.83 528.71 L345.29 528.26 L345.75 527.83 L346.21 527.42 L346.68 527.02 L347.15 526.65 L347.62 526.29 L348.09 525.96 L348.57 525.65 L349.06 525.37 L349.54 525.11 L350.03 524.88 L350.51 524.67 L351.00 524.49 L351.49 524.34 L351.97 524.23 L352.45 524.14 L352.93 524.08 L353.41 524.06 L353.87 524.06 L354.33 524.10 L354.78 524.14 L355.23 524.08 L355.69 524.06 L356.16 524.06 L356.64 524.10 L357.12 524.17 L357.60 524.26 L358.08 524.39 L358.57 524.55 L359.06 524.74 L359.55 524.96 L360.03 525.20 L360.51 525.47 L360.99 525.76 L361.47 526.08 L361.95 526.42 L362.42 526.78 L362.89 527.16 L363.35 527.56 L363.81 527.98 L364.27 528.42 L364.73 528.87 L365.17 529.34 L365.62 529.82 L366.06 530.31 L366.50 530.81 L366.93 531.33 L367.36 531.85 L367.79 532.38 L368.21 532.92 L368.62 533.46 L369.03 534.01 L369.44 534.56 L369.84 535.11 L370.24 535.66 L370.64 536.21 L371.03 536.76 L371.41 537.30 L371.80 537.84 L372.17 538.38 L372.55 538.90 L372.92 539.42 L373.28 539.93 L373.64 540.44 L374.00 540.93 L374.35 541.40 L374.70 541.87 L375.05 542.32 L375.39 542.75 L375.72 543.17 L376.06 543.58 L376.39 543.96 L376.71 544.33 L377.04 544.68 L377.36 545.01 L377.68 545.33 L377.99 545.62 L378.31 545.90 L378.62 546.16 L378.93 546.39 L379.25 546.61 L379.56 546.81 L379.88 546.99 L380.21 547.15 L380.53 547.36 L380.86 547.54 L381.22 547.69 L381.58 547.75 L381.95 547.74 L382.32 547.71 L382.71 547.68 L383.10 547.63 L383.50 547.57 L383.91 547.49 L384.09 547.93 L383.70 548.15 L383.30 548.35 L382.89 548.51 L382.47 548.63 L382.04 548.71 L381.61 548.75 L381.18 548.81 L380.73 548.90 L380.27 548.98 L379.78 549.03 L379.31 548.98 L378.83 548.91 L378.34 548.80 L377.85 548.66 L377.37 548.49 L376.88 548.29 L376.39 548.07 L375.91 547.82 L375.43 547.54 L374.95 547.24 L374.47 546.91 L374.00 546.57 L373.52 546.20 L373.06 545.81 L372.59 545.40 L372.13 544.98 L371.68 544.54 L371.23 544.08 L370.78 543.61 L370.33 543.12 L369.89 542.63 L369.46 542.12 L369.03 541.60 L368.60 541.08 L368.18 540.54 L367.76 540.00 L367.34 539.46 L366.93 538.91 L366.52 538.36 L366.12 537.81 L365.73 537.26 L365.33 536.71 L364.94 536.16 L364.56 535.62 L364.18 535.08 L363.80 534.55 L363.43 534.02 L363.06 533.51 L362.70 533.00 L362.34 532.50 L361.98 532.02 L361.63 531.54 L361.29 531.08 L360.94 530.64 L360.60 530.21 L360.27 529.79 L359.93 529.39 L359.60 529.01 L359.28 528.65 L358.96 528.31 L358.64 527.98 L358.32 527.67 L358.00 527.38 L357.69 527.11 L357.38 526.86 L357.06 526.63 L356.75 526.42 L356.43 526.23 L356.11 526.05 L355.78 525.90 L355.45 525.77 L355.11 525.65 L354.76 525.56 L354.41 525.62 L354.07 525.72 L353.73 525.85 L353.41 526.00 L353.08 526.16 L352.76 526.35 L352.45 526.56 L352.13 526.78 L351.82 527.02 L351.51 527.29 L351.19 527.57 L350.88 527.87 L350.56 528.19 L350.23 528.53 L349.91 528.88 L349.58 529.26 L349.25 529.65 L348.92 530.06 L348.58 530.48 L348.24 530.92 L347.89 531.38 L347.54 531.85 L347.19 532.33 L346.83 532.82 L346.47 533.33 L346.10 533.84 L345.73 534.36 L345.35 534.89 L344.98 535.43 L344.59 535.97 L344.21 536.52 L343.81 537.07 L343.42 537.62 L343.02 538.17 L342.61 538.72 L342.20 539.27 L341.79 539.81 L341.37 540.35 L340.95 540.89 L340.52 541.42 L340.09 541.94 L339.66 542.45 L339.22 542.95 L338.78 543.44 L338.33 543.91 L337.88 544.38 L337.43 544.82 L336.97 545.25 L336.51 545.67 L336.04 546.06 L335.57 546.44 L335.10 546.79 L334.62 547.13 L334.14 547.44 L333.66 547.72 L333.18 547.98 L332.69 548.22 L332.20 548.42 L331.72 548.60 L331.23 548.75 L330.74 548.87 L330.26 548.96 L329.78 549.02 L329.31 549.04 L328.84 549.04 L328.39 549.00 L327.94 548.96 L327.48 549.02 L327.02 549.04 L326.56 549.04 L326.08 549.00 L325.60 548.94 L325.12 548.84 L324.63 548.71 L324.15 548.55 L323.66 548.37 L323.17 548.15 L322.69 547.91 L322.20 547.64 L321.72 547.35 L321.24 547.03 L320.77 546.70 L320.30 546.33 L319.83 545.95 L319.36 545.55 L318.90 545.13 L318.44 544.70 L317.99 544.25 L317.54 543.78 L317.09 543.30 L316.65 542.81 L316.22 542.30 L315.78 541.79 L315.35 541.27 L314.93 540.74 L314.51 540.20 L314.09 539.66 L313.68 539.11 L313.27 538.56 L312.87 538.01 L312.47 537.46 L312.08 536.91 L311.68 536.36 L311.30 535.82 L310.92 535.28 L310.54 534.74 L310.17 534.21 L309.80 533.69 L309.43 533.18 L309.07 532.68 L308.71 532.19 L308.36 531.71 L308.01 531.25 L307.67 530.80 L307.33 530.36 L306.99 529.94 L306.65 529.54 L306.32 529.15 L306.00 528.78 L305.67 528.43 L305.35 528.10 L305.03 527.78 L304.72 527.49 L304.40 527.21 L304.09 526.95 L303.78 526.71 L303.46 526.49 L303.15 526.30 L302.83 526.11 L302.50 525.95 L302.17 525.81 L301.84 525.69 L301.49 525.59 L301.14 525.59 L300.79 525.68 L300.45 525.80 L300.12 525.94 L299.80 526.10 L299.48 526.28 L299.16 526.48 L298.85 526.70 L298.54 526.93 L298.22 527.19 L297.91 527.46 L297.59 527.76 L297.27 528.07 L296.95 528.40 L296.63 528.75 L296.30 529.12 L295.97 529.51 L295.64 529.91 L295.30 530.33 L294.96 530.76 L294.62 531.21 L294.27 531.68 L293.92 532.15 L293.56 532.64 L293.20 533.14 L292.83 533.65 L292.46 534.17 L292.09 534.70 L291.71 535.23 L291.33 535.77 L290.95 536.32 L290.56 536.87 L290.16 537.42 L289.76 537.97 L289.36 538.52 L288.95 539.07 L288.54 539.61 L288.13 540.16 L287.71 540.69 L287.28 541.23 L286.85 541.75 L286.42 542.26 L285.98 542.77 L285.54 543.26 L285.10 543.74 L284.65 544.21 L284.19 544.66 L283.74 545.10 L283.28 545.52 L282.81 545.92 L282.34 546.30 L281.87 546.67 L281.40 547.01 L280.92 547.33 L280.44 547.62 L279.95 547.89 L279.47 548.13 L278.98 548.35 L278.49 548.54 L278.01 548.70 L277.52 548.83 L277.04 548.93 L276.56 549.00 L276.08 549.04 L275.61 549.04 L275.15 549.02 L274.70 548.97 L274.25 549.00 L273.79 549.04 L273.33 549.04 L272.85 549.02 L272.38 548.97 L271.89 548.88 L271.41 548.76 L270.92 548.62 L270.44 548.44 L269.95 548.23 L269.46 548.00 L268.98 547.74 L268.50 547.46 L268.02 547.15 L267.54 546.82 L267.07 546.47 L266.60 546.09 L266.13 545.70 L265.67 545.29 L265.21 544.86 L264.76 544.41 L264.30 543.95 L263.86 543.48 L263.41 542.99 L262.98 542.49 L262.54 541.98 L262.11 541.46 L261.68 540.93 L261.26 540.40 L260.84 539.86 L260.43 539.31 L260.02 538.76 L259.62 538.21 L259.22 537.66 L258.82 537.11 L258.43 536.56 L258.04 536.02 L257.66 535.47 L257.28 534.94 L256.90 534.41 L256.53 533.88 L256.16 533.37 L255.80 532.86 L255.44 532.37 L255.09 531.89 L254.74 531.42 L254.39 530.96 L254.05 530.52 L253.71 530.09 L253.38 529.68 L253.04 529.29 L252.72 528.91 L252.39 528.56 L252.07 528.22 L251.75 527.89 L251.43 527.59 L251.12 527.31 L250.80 527.04 L250.49 526.80 L250.18 526.57 L249.86 526.37 L249.54 526.18 L249.22 526.01 L248.89 525.86 L248.56 525.73 L248.22 525.63 L247.87 525.56 L247.52 525.65 L247.18 525.76 L246.84 525.89 L246.52 526.04 L246.20 526.21 L245.88 526.40 L245.56 526.61 L245.25 526.84 L244.94 527.09 L244.62 527.36 L244.31 527.65 L243.99 527.95 L243.67 528.28 L243.35 528.62 L243.02 528.98 L242.69 529.36 L242.36 529.76 L242.03 530.17 L241.69 530.60 L241.34 531.05 L241.00 531.50 L240.64 531.98 L240.29 532.46 L239.93 532.96 L239.57 533.46 L239.20 533.98 L238.83 534.51 L238.45 535.04 L238.07 535.58 L237.69 536.12 L237.30 536.67 L236.91 537.21 L236.51 537.77 L236.11 538.32 L235.70 538.87 L235.29 539.41 L234.88 539.96 L234.46 540.50 L234.04 541.03 L233.61 541.56 L233.18 542.08 L232.74 542.58 L232.30 543.08 L231.86 543.57 L231.41 544.04 L230.96 544.50 L230.50 544.94 L230.04 545.37 L229.58 545.78 L229.11 546.17 L228.64 546.54 L228.17 546.89 L227.69 547.21 L227.21 547.52 L226.73 547.79 L226.25 548.05 L225.76 548.28 L225.27 548.47 L224.79 548.65 L224.30 548.79 L223.81 548.90 L223.33 548.98 L222.86 549.03 L222.38 549.05 L221.92 549.03 L221.46 548.99 L221.02 548.98 L220.56 549.03 L220.10 549.05 L219.63 549.03 L219.15 548.99 L218.67 548.91 L218.19 548.81 L217.70 548.67 L217.21 548.51 L216.73 548.31 L216.24 548.09 L215.76 547.84 L215.27 547.57 L214.79 547.27 L214.31 546.94 L213.84 546.60 L213.37 546.23 L212.90 545.85 L212.44 545.44 L211.98 545.02 L211.52 544.58 L211.07 544.12 L210.62 543.65 L210.18 543.17 L209.73 542.67 L209.30 542.17 L208.87 541.65 L208.44 541.13 L208.01 540.59 L207.60 540.05 L207.18 539.51 L206.77 538.96 L206.36 538.41 L205.96 537.86 L205.56 537.31 L205.17 536.76 L204.78 536.21 L204.39 535.67 L204.01 535.13 L203.64 534.60 L203.26 534.07 L202.90 533.55 L202.53 533.05 L202.17 532.55 L201.82 532.06 L201.47 531.59 L201.12 531.13 L200.77 530.68 L200.43 530.25 L200.10 529.83 L199.76 529.43 L199.44 529.05 L199.11 528.68 L198.79 528.34 L198.47 528.01 L198.15 527.70 L197.83 527.41 L197.52 527.14 L197.21 526.89 L196.89 526.65 L196.58 526.44 L196.26 526.24 L195.94 526.07 L195.61 525.91 L195.28 525.78 L194.94 525.66 L194.60 525.57 L194.24 525.61 L193.90 525.71 L193.56 525.84 L193.24 525.98 L192.91 526.15 L192.59 526.33 L192.28 526.53 L191.96 526.76 L191.65 527.00 L191.34 527.26 L191.02 527.54 L190.71 527.84 L190.39 528.16 L190.07 528.49 L189.74 528.85 L189.41 529.22 L189.08 529.61 L188.75 530.02 L188.41 530.44 L188.07 530.88 L187.72 531.34 L187.37 531.80 L187.02 532.28 L186.66 532.78 L186.30 533.28 L185.93 533.79 L185.56 534.31 L185.19 534.84 L184.81 535.38 L184.43 535.92 L184.04 536.47 L183.65 537.01 L183.25 537.56 L182.86 538.12 L182.45 538.67 L182.04 539.22 L181.63 539.76 L181.21 540.30 L180.79 540.84 L180.37 541.37 L179.94 541.89 L179.50 542.40 L179.06 542.90 L178.62 543.39 L178.17 543.87 L177.72 544.33 L177.27 544.78 L176.81 545.21 L176.35 545.63 L175.88 546.03 L175.42 546.40 L174.94 546.76 L174.47 547.10 L173.99 547.41 L173.51 547.70 L173.02 547.96 L172.54 548.20 L172.05 548.41 L171.56 548.59 L171.08 548.74 L170.59 548.86 L170.11 548.95 L169.63 549.01 L169.16 549.04 L168.69 549.04 L168.23 549.01 L167.78 548.95 L167.33 549.01 L166.87 549.04 L166.40 549.04 L165.93 549.01 L165.45 548.95 L164.96 548.85 L164.48 548.73 L163.99 548.57 L163.50 548.39 L163.02 548.17 L162.53 547.93 L162.05 547.67 L161.57 547.38 L161.09 547.07 L160.61 546.73 L160.14 546.37 L159.67 545.99 L159.21 545.59 L158.74 545.17 L158.29 544.74 L157.83 544.29 L157.38 543.83 L156.94 543.35 L156.49 542.86 L156.06 542.35 L155.62 541.84 L155.19 541.32 L154.77 540.79 L154.35 540.25 L153.93 539.71 L153.52 539.16 L153.11 538.61 L152.71 538.06 L152.31 537.51 L151.91 536.96 L151.52 536.41 L151.13 535.87 L150.75 535.33 L150.37 534.79 L150.00 534.26 L149.63 533.74 L149.27 533.23 L148.90 532.73 L148.55 532.24 L148.19 531.76 L147.84 531.29 L147.50 530.84 L147.16 530.40 L146.82 529.98 L146.49 529.58 L146.16 529.19 L145.83 528.82 L145.50 528.46 L145.18 528.13 L144.86 527.81 L144.55 527.51 L144.23 527.23 L143.92 526.98 L143.61 526.74 L143.29 526.51 L142.98 526.31 L142.66 526.13 L142.33 525.97 L142.00 525.83 L141.67 525.70 L141.32 525.60 L140.97 525.58 L140.62 525.67 L140.29 525.79 L139.95 525.93 L139.63 526.08 L139.31 526.26 L138.99 526.46 L138.68 526.67 L138.36 526.91 L138.05 527.16 L137.74 527.44 L137.42 527.73 L137.10 528.04 L136.78 528.37 L136.46 528.72 L136.13 529.08 L135.80 529.47 L135.47 529.87 L135.13 530.29 L134.79 530.72 L134.45 531.17 L134.10 531.63 L133.75 532.11 L133.39 532.59 L133.03 533.09 L132.67 533.60 L132.30 534.12 L131.93 534.65 L131.55 535.18 L131.17 535.72 L130.78 536.27 L130.39 536.81 L130.00 537.36 L129.60 537.91 L129.20 538.47 L128.79 539.02 L128.38 539.56 L127.97 540.11 L127.55 540.64 L127.12 541.18 L126.69 541.70 L126.26 542.21 L125.82 542.72 L125.38 543.22 L124.94 543.70 L124.49 544.17 L124.04 544.62 L123.58 545.06 L123.12 545.48 L122.65 545.88 L122.19 546.27 L121.72 546.63 L121.24 546.98 L120.76 547.30 L120.28 547.59 L119.80 547.87 L119.31 548.11 L118.83 548.33 L118.34 548.52 L117.85 548.69 L117.37 548.82 L116.88 548.92 L116.40 548.99 L115.93 549.04 L115.46 549.05 L115.00 549.02 L114.54 548.97 L114.09 548.99 L113.64 549.04 L113.17 549.05 L112.70 549.02 L112.22 548.97 L111.74 548.89 L111.26 548.77 L110.77 548.63 L110.28 548.46 L109.79 548.25 L109.31 548.03 L108.82 547.77 L108.34 547.49 L107.86 547.18 L107.39 546.85 L106.91 546.50 L106.44 546.13 L105.98 545.74 L105.51 545.33 L105.05 544.90 L104.60 544.46 L104.15 544.00 L103.70 543.52 L103.26 543.04 L102.82 542.54 L102.38 542.03 L101.95 541.51 L101.52 540.98 L101.10 540.45 L100.68 539.91 L100.27 539.36 L99.86 538.81 L99.45 538.26 L99.05 537.71 L98.66 537.16 L98.26 536.61 L97.88 536.07 L97.49 535.52 L97.11 534.99 L96.74 534.46 L96.37 533.93 L96.00 533.42 L95.64 532.91 L95.28 532.41 L94.92 531.93 L94.57 531.46 L94.22 531.00 L93.88 530.56 L93.54 530.13 L93.21 529.72 L92.88 529.33 L92.55 528.95 L92.22 528.59 L91.90 528.25 L91.58 527.92 L91.26 527.62 L90.95 527.33 L90.69 526.97 L90.41 526.64 L90.13 526.33 L89.82 526.04 L89.50 525.79 L89.17 525.56 L88.82 525.37 L88.46 525.21 L88.09 525.08 L87.70 524.99Z" fill="#8a96c2" style="mix-blend-mode:multiply"/>
<path d="M379 184 C370 179 362 177.5 355 178 C342 179 332 186 325 194 C316 206 306 224 298 238 C290 250 284 255 279.6 258 M214 259.5 C205 253 197 244 189 230 C178 208 168 186 150 176 C132 166 100 172 90 198 C83 218 87 240 100 256 C112 268 124 278 132 291 M130.5 356 C123 366 96 382 82 398 C66 420 64 452 80 468 C92 480 108 480 122 466 C134 452 142 432 152 416 C162 402 176 389 191 386.5 M254 400 C262 410 268 432 274 458 C280 478 292 490 312 493 C332 494 346 482 350 460 C353 438 342 420 337 398 C332 374 342 356 360 344 C370 337 380 330 388.5 327.5 M498 329 C508 331 516 333 525 335" fill="none" stroke="#231815" stroke-width="2"/>
<path d="M217.88 266.52 L219.22 266.76 L220.62 267.00 L222.03 267.22 L223.45 267.43 L224.88 267.62 L226.32 267.80 L227.77 267.96 L229.23 268.11 L230.69 268.25 L232.17 268.37 L233.65 268.47 L235.13 268.57 L236.63 268.64 L238.13 268.70 L239.64 268.75 L241.15 268.78 L242.66 268.79 L244.18 268.80 L245.71 268.78 L247.23 268.75 L248.76 268.70 L250.29 268.64 L251.83 268.56 L253.36 268.46 L254.89 268.35 L256.43 268.22 L257.96 268.07 L259.49 267.90 L261.02 267.72 L262.55 267.51 L264.07 267.29 L265.60 267.05 L267.12 266.79 L268.63 266.50 L270.15 266.20 L271.65 265.87 L273.16 265.52 L274.66 265.15 L276.15 264.76 L277.58 264.36 L273.42 253.64 L272.21 254.27 L271.03 254.84 L269.82 255.39 L268.60 255.91 L267.35 256.40 L266.08 256.87 L264.79 257.30 L263.48 257.70 L262.16 258.08 L260.83 258.42 L259.48 258.74 L258.12 259.03 L256.75 259.28 L255.37 259.51 L253.99 259.71 L252.60 259.87 L251.21 260.01 L249.81 260.12 L248.41 260.20 L247.02 260.25 L245.62 260.27 L244.23 260.27 L242.84 260.23 L241.45 260.16 L240.07 260.07 L238.70 259.95 L237.34 259.80 L236.00 259.63 L234.66 259.42 L233.33 259.19 L232.03 258.94 L230.73 258.65 L229.46 258.35 L228.21 258.01 L226.97 257.65 L225.76 257.27 L224.57 256.86 L223.41 256.43 L222.27 255.97 L221.12 255.48Z" fill="#d22485"/><circle cx="219.5" cy="261" r="5.75" fill="#d22485"/><circle cx="275.5" cy="259" r="5.75" fill="#d22485"/>
<path d="M129.83 295.44 L130.18 296.70 L130.51 297.93 L130.82 299.19 L131.11 300.45 L131.37 301.73 L131.62 303.02 L131.84 304.31 L132.04 305.62 L132.21 306.94 L132.37 308.27 L132.50 309.60 L132.60 310.94 L132.69 312.29 L132.75 313.64 L132.79 315.00 L132.81 316.36 L132.80 317.73 L132.77 319.10 L132.71 320.47 L132.63 321.85 L132.53 323.22 L132.41 324.60 L132.26 325.97 L132.08 327.35 L131.88 328.73 L131.66 330.10 L131.42 331.47 L131.14 332.83 L130.85 334.20 L130.53 335.55 L130.19 336.91 L129.82 338.25 L129.43 339.59 L129.02 340.92 L128.58 342.25 L128.12 343.56 L127.63 344.87 L127.12 346.17 L126.59 347.45 L126.02 348.76 L136.98 352.24 L137.29 350.77 L137.60 349.26 L137.90 347.76 L138.18 346.25 L138.46 344.75 L138.71 343.25 L138.96 341.75 L139.19 340.25 L139.41 338.75 L139.62 337.26 L139.82 335.76 L140.01 334.27 L140.18 332.78 L140.35 331.29 L140.50 329.81 L140.65 328.32 L140.78 326.84 L140.90 325.36 L141.01 323.88 L141.12 322.40 L141.21 320.93 L141.29 319.46 L141.36 317.99 L141.43 316.53 L141.48 315.06 L141.52 313.60 L141.56 312.15 L141.58 310.69 L141.60 309.24 L141.60 307.80 L141.60 306.35 L141.59 304.91 L141.57 303.48 L141.54 302.04 L141.50 300.62 L141.45 299.19 L141.39 297.77 L141.33 296.35 L141.25 294.94 L141.17 293.56Z" fill="#d22485"/><circle cx="135.5" cy="294.5" r="5.75" fill="#d22485"/><circle cx="131.5" cy="350.5" r="5.75" fill="#d22485"/>
<path d="M196.01 393.53 L197.35 393.26 L198.65 393.03 L199.98 392.82 L201.32 392.64 L202.68 392.49 L204.05 392.36 L205.43 392.26 L206.82 392.19 L208.21 392.15 L209.62 392.14 L211.03 392.15 L212.44 392.19 L213.86 392.25 L215.27 392.35 L216.69 392.47 L218.10 392.61 L219.51 392.79 L220.91 392.98 L222.31 393.21 L223.70 393.46 L225.08 393.74 L226.45 394.04 L227.81 394.37 L229.16 394.72 L230.49 395.10 L231.80 395.50 L233.10 395.93 L234.37 396.38 L235.63 396.86 L236.86 397.35 L238.07 397.87 L239.25 398.41 L240.40 398.98 L241.53 399.56 L242.63 400.16 L243.69 400.79 L244.72 401.43 L245.72 402.09 L246.67 402.77 L247.65 403.49 L253.35 393.51 L252.12 392.97 L250.82 392.43 L249.51 391.90 L248.18 391.38 L246.84 390.89 L245.48 390.41 L244.11 389.94 L242.73 389.49 L241.33 389.05 L239.92 388.63 L238.50 388.22 L237.07 387.82 L235.63 387.43 L234.18 387.06 L232.72 386.71 L231.25 386.36 L229.77 386.03 L228.29 385.71 L226.80 385.41 L225.30 385.11 L223.79 384.83 L222.28 384.57 L220.77 384.31 L219.25 384.07 L217.73 383.84 L216.21 383.63 L214.68 383.42 L213.15 383.24 L211.63 383.06 L210.10 382.90 L208.57 382.75 L207.05 382.62 L205.52 382.50 L204.00 382.39 L202.48 382.30 L200.97 382.23 L199.45 382.17 L197.95 382.12 L196.44 382.09 L194.99 382.07Z" fill="#d22485"/><circle cx="195.5" cy="387.8" r="5.75" fill="#d22485"/><circle cx="250.5" cy="398.5" r="5.75" fill="#d22485"/>
<ellipse rx="7.6" ry="9.7" transform="translate(115 241.4) rotate(0)" fill="#c495c1" stroke="#b48aad" stroke-width="0.5"/>
<ellipse rx="7.6" ry="9.9" transform="translate(219 277) rotate(0)" fill="#c495c1" stroke="#b48aad" stroke-width="0.5"/>
<ellipse rx="9.5" ry="8" transform="translate(151.5 296) rotate(0)" fill="#c495c1" stroke="#b48aad" stroke-width="0.5"/>
<ellipse rx="9.4" ry="8" transform="translate(156.4 353) rotate(0)" fill="#c495c1" stroke="#b48aad" stroke-width="0.5"/>
<ellipse rx="9.5" ry="8.2" transform="translate(90.4 345) rotate(0)" fill="#c495c1" stroke="#b48aad" stroke-width="0.5"/>
<ellipse rx="9.5" ry="8.1" transform="translate(138.6 387) rotate(0)" fill="#c495c1" stroke="#b48aad" stroke-width="0.5"/>
<ellipse rx="8.1" ry="9.9" transform="translate(206.5 314) rotate(0)" fill="#c495c1" stroke="#b48aad" stroke-width="0.5"/>
<ellipse rx="9.5" ry="8" transform="translate(262.5 366.9) rotate(0)" fill="#c495c1" stroke="#b48aad" stroke-width="0.5"/>
<ellipse rx="9.5" ry="8" transform="translate(271.5 332) rotate(0)" fill="#c495c1" stroke="#b48aad" stroke-width="0.5"/>
<ellipse rx="8.2" ry="9.6" transform="translate(245.3 423.3) rotate(-35)" fill="#c495c1" stroke="#b48aad" stroke-width="0.5"/>
<ellipse rx="8.2" ry="9.6" transform="translate(311 461.8) rotate(-35)" fill="#c495c1" stroke="#b48aad" stroke-width="0.5"/>
<rect x="-10.25" y="-5.75" width="20.5" height="11.5" transform="translate(151.5 260.5) rotate(21)" fill="#48b68e" stroke="#2e4a3c" stroke-width="0.6"/>
<rect x="-6.25" y="-10.5" width="12.5" height="21" transform="translate(284 203) rotate(27)" fill="#48b68e" stroke="#2e4a3c" stroke-width="0.6"/>
<rect x="-6.0" y="-10.5" width="12" height="21" transform="translate(274.7 273) rotate(-17)" fill="#48b68e" stroke="#2e4a3c" stroke-width="0.6"/>
<rect x="-5.75" y="-10.5" width="11.5" height="21" transform="translate(104.9 296.8) rotate(25)" fill="#48b68e" stroke="#2e4a3c" stroke-width="0.6"/>
<rect x="-10.5" y="-6.0" width="21" height="12" transform="translate(163.5 286.4) rotate(30)" fill="#48b68e" stroke="#2e4a3c" stroke-width="0.6"/>
<rect x="-5.25" y="-10.0" width="10.5" height="20" transform="translate(198.9 369.2) rotate(22)" fill="#48b68e" stroke="#2e4a3c" stroke-width="0.6"/>
<rect x="-5.25" y="-10.0" width="10.5" height="20" transform="translate(255.2 383) rotate(25)" fill="#48b68e" stroke="#2e4a3c" stroke-width="0.6"/>
<rect x="-5.8" y="-10.1" width="11.6" height="20.2" transform="translate(320.8 343.9) rotate(27)" fill="#48b68e" stroke="#2e4a3c" stroke-width="0.6"/>
<g transform="translate(130.3 214.6) rotate(27)"><use href="#sq" transform="translate(16.5 0)"/><use href="#cap"/></g>
<g transform="translate(248.7 214.9) rotate(205)"><use href="#sq" transform="translate(16.5 0)"/><use href="#cap"/></g>
<g transform="translate(236.5 276.5) rotate(90)"><use href="#sq" transform="translate(16.5 0)"/><use href="#cap"/></g>
<g transform="translate(256.5 276.5) rotate(90)"><use href="#sq" transform="translate(16.5 0)"/><use href="#cap"/></g>
<g transform="translate(151.5 314.7) rotate(0)"><use href="#sq" transform="translate(16.5 0)"/><use href="#cap"/></g>
<g transform="translate(151.5 334.8) rotate(0)"><use href="#sq" transform="translate(16.5 0)"/><use href="#cap"/></g>
<g transform="translate(215.7 373.6) rotate(-88)"><use href="#sq" transform="translate(16.5 0)"/><use href="#cap"/></g>
<g transform="translate(235.5 375.2) rotate(-88)"><use href="#sq" transform="translate(16.5 0)"/><use href="#cap"/></g>
<g transform="translate(335.8 300.3) rotate(-82)"><use href="#sq" transform="translate(16.5 0)"/><use href="#cap"/></g>
<g transform="translate(117.1 428.4) rotate(150)"><use href="#sq" transform="translate(16.5 0)"/><use href="#cap"/></g>
<g transform="translate(179 436.8) rotate(30)"><use href="#sq" transform="translate(16.5 0)"/><use href="#cap"/></g>
<g transform="translate(313.6 422.4) rotate(158)"><use href="#sq" transform="translate(16.5 0)"/><use href="#cap"/></g>
<g stroke="#3a3a3a" stroke-width="0.8" stroke-dasharray="4.5 3.5" fill="none"><line x1="403" y1="107" x2="256" y2="293"/><line x1="495" y1="223" x2="267" y2="311"/><line x1="88" y1="444" x2="197" y2="540"/><line x1="348" y1="441" x2="255" y2="541"/></g>
<path d="M389 316 V289 H437" fill="none" stroke="#231815" stroke-width="1.8"/>
<path d="M435 283.9 L445.7 289.2 L435 295.9 Z" fill="#231815"/>
<rect x="388.3" y="316" width="109.7" height="20.2" fill="#f4bfc0"/>
<text x="390.8" y="332.2" font-size="18" font-weight="bold" font-style="normal" fill="#111" textLength="104.1" lengthAdjust="spacing">Target Gene</text>
<circle cx="466.3" cy="151.4" r="76.2" fill="#edf4f1" stroke="#3a3a3a" stroke-width="0.9"/>
<g fill="none" stroke="#2d4fa3" stroke-width="2.8" stroke-linecap="butt"><path d="M469.3 107.3 C490 109 508 117 513.4 128.5 C517 138 512 156 505 171.6"/><path d="M401.8 141.8 C420 142 440 150 445.5 160.3 C449 172 445 190 438 206.5"/></g>
<g fill="none" stroke="#2a2222" stroke-width="0.9"><path d="M477.3 124.2 L492 128.9 V136.8 L477.3 140.5 L462.6 136.8 V128.9 Z"/><ellipse cx="477.3" cy="132.6" rx="10.8" ry="4.8" stroke-width="0.6"/><path d="M477.3 147.3 L492 151 V159.4 L477.3 163.6 L462.6 159.4 V151 Z"/><ellipse cx="477.3" cy="155.4" rx="10.8" ry="4.8" stroke-width="0.6"/><line x1="492" y1="129.3" x2="513.4" y2="128.5"/><line x1="462.6" y1="158.8" x2="445.5" y2="160.3"/><line x1="477.3" y1="141" x2="477.3" y2="156" stroke-dasharray="1.2 1.2" stroke-width="0.6"/></g>
<circle cx="513.4" cy="128.5" r="3.6" fill="#e32222"/><circle cx="445.5" cy="160.3" r="3.6" fill="#e32222"/>
<text x="463.3" y="101.9" font-size="15.5" font-weight="bold" font-style="normal" fill="#111" textLength="29.24" lengthAdjust="spacing">Phe</text>
<text x="405.8" y="174.3" font-size="15.5" font-weight="bold" font-style="normal" fill="#111" textLength="29.24" lengthAdjust="spacing">Phe</text>
<text x="460.8" y="193" font-size="24" fill="#111" stroke="#111" stroke-width="0.45" textLength="38" lengthAdjust="spacing">π-π</text>
<text x="592.3" y="279.1" font-size="27" font-weight="bold" font-style="normal" fill="#111" textLength="82.85" lengthAdjust="spacing">F178A</text>
<text x="542.5" y="390.8" font-size="27" font-weight="bold" font-style="normal" fill="#111" textLength="204.22" lengthAdjust="spacing">BRD4 inhibitors</text>
<path d="M562.6 301 L690.4 302.6 L690.4 296.8 L724.9 305.5 L690.4 314.9 L690.4 308.4 L562.6 307.8 Z" fill="url(#fadeR)"/>
<path d="M562.6 343.5 L690.4 345 L690.4 339.7 L724.9 348.8 L690.4 357.3 L690.4 351.4 L562.6 350.5 Z" fill="url(#fadeR2)"/>
<path d="M777.40 524.71 L777.81 524.65 L778.24 524.60 L778.68 524.57 L779.13 524.55 L779.60 524.56 L780.08 524.59 L780.58 524.63 L781.09 524.70 L781.62 524.80 L782.15 524.91 L782.64 525.15 L783.12 525.41 L783.60 525.70 L784.08 526.02 L784.56 526.35 L785.03 526.71 L785.50 527.08 L785.96 527.48 L786.43 527.90 L786.88 528.33 L787.34 528.78 L787.79 529.24 L788.23 529.72 L788.67 530.21 L789.11 530.71 L789.54 531.22 L789.97 531.74 L790.40 532.27 L790.82 532.81 L791.24 533.35 L791.65 533.89 L792.06 534.44 L792.46 534.99 L792.86 535.54 L793.26 536.09 L793.65 536.64 L794.03 537.19 L794.42 537.73 L794.79 538.26 L795.17 538.79 L795.54 539.31 L795.90 539.82 L796.26 540.33 L796.62 540.82 L796.97 541.30 L797.32 541.76 L797.67 542.22 L798.01 542.66 L798.35 543.08 L798.68 543.49 L799.01 543.88 L799.34 544.25 L799.66 544.60 L799.98 544.94 L800.30 545.26 L800.62 545.56 L800.93 545.84 L801.25 546.10 L801.56 546.34 L801.87 546.56 L802.19 546.77 L802.51 546.95 L802.83 547.11 L803.16 547.26 L803.49 547.38 L803.84 547.49 L804.19 547.53 L804.54 547.44 L804.87 547.32 L805.21 547.19 L805.53 547.03 L805.85 546.86 L806.17 546.67 L806.48 546.45 L806.80 546.22 L807.11 545.97 L807.42 545.70 L807.74 545.41 L808.06 545.10 L808.38 544.77 L808.70 544.43 L809.02 544.06 L809.35 543.68 L809.68 543.28 L810.02 542.87 L810.36 542.44 L810.70 541.99 L811.05 541.53 L811.40 541.06 L811.76 540.57 L812.12 540.08 L812.48 539.57 L812.85 539.05 L813.22 538.53 L813.60 537.99 L813.98 537.46 L814.36 536.91 L814.75 536.37 L815.14 535.82 L815.54 535.27 L815.94 534.72 L816.35 534.17 L816.76 533.62 L817.17 533.08 L817.59 532.54 L818.01 532.01 L818.44 531.48 L818.87 530.97 L819.31 530.46 L819.75 529.96 L820.19 529.48 L820.64 529.01 L821.09 528.55 L821.55 528.11 L822.01 527.69 L822.47 527.28 L822.94 526.89 L823.41 526.53 L823.88 526.18 L824.36 525.86 L824.84 525.56 L825.32 525.28 L825.80 525.03 L826.29 524.80 L826.77 524.61 L827.26 524.44 L827.75 524.30 L828.23 524.19 L828.71 524.12 L829.19 524.07 L829.66 524.05 L830.12 524.07 L830.58 524.12 L831.02 524.12 L831.48 524.07 L831.94 524.05 L832.41 524.07 L832.89 524.12 L833.37 524.19 L833.85 524.30 L834.34 524.44 L834.83 524.61 L835.31 524.80 L835.80 525.03 L836.28 525.28 L836.76 525.56 L837.24 525.86 L837.72 526.18 L838.19 526.53 L838.66 526.89 L839.13 527.28 L839.59 527.69 L840.05 528.11 L840.51 528.55 L840.96 529.01 L841.41 529.48 L841.85 529.96 L842.29 530.46 L842.73 530.97 L843.16 531.48 L843.59 532.01 L844.01 532.54 L844.43 533.08 L844.84 533.62 L845.25 534.17 L845.66 534.72 L846.06 535.27 L846.46 535.82 L846.85 536.37 L847.24 536.91 L847.62 537.46 L848.00 537.99 L848.38 538.53 L848.75 539.05 L849.12 539.57 L849.48 540.08 L849.84 540.57 L850.20 541.06 L850.55 541.53 L850.90 541.99 L851.24 542.44 L851.58 542.87 L851.92 543.28 L852.25 543.68 L852.58 544.06 L852.90 544.43 L853.22 544.77 L853.54 545.10 L853.86 545.41 L854.18 545.70 L854.49 545.97 L854.80 546.22 L855.12 546.45 L855.43 546.67 L855.75 546.86 L856.07 547.03 L856.39 547.19 L856.73 547.32 L857.06 547.44 L857.41 547.53 L857.76 547.49 L858.11 547.38 L858.44 547.26 L858.77 547.11 L859.09 546.95 L859.41 546.77 L859.73 546.56 L860.04 546.34 L860.35 546.10 L860.67 545.84 L860.98 545.56 L861.30 545.26 L861.62 544.94 L861.94 544.60 L862.26 544.25 L862.59 543.88 L862.92 543.49 L863.25 543.08 L863.59 542.66 L863.93 542.22 L864.28 541.76 L864.63 541.30 L864.98 540.82 L865.34 540.33 L865.70 539.82 L866.06 539.31 L866.43 538.79 L866.81 538.26 L867.18 537.73 L867.57 537.19 L867.95 536.64 L868.34 536.09 L868.74 535.54 L869.14 534.99 L869.54 534.44 L869.95 533.89 L870.36 533.35 L870.78 532.81 L871.20 532.27 L871.63 531.74 L872.06 531.22 L872.49 530.71 L872.93 530.21 L873.37 529.72 L873.81 529.24 L874.26 528.78 L874.72 528.33 L875.17 527.90 L875.64 527.48 L876.10 527.08 L876.57 526.71 L877.04 526.35 L877.52 526.02 L878.00 525.70 L878.48 525.41 L878.96 525.15 L879.45 524.91 L879.93 524.70 L880.42 524.52 L880.90 524.37 L881.39 524.24 L881.87 524.15 L882.35 524.09 L882.82 524.06 L883.29 524.06 L883.75 524.09 L884.20 524.15 L884.65 524.09 L885.11 524.06 L885.58 524.06 L886.05 524.09 L886.53 524.15 L887.01 524.24 L887.50 524.37 L887.98 524.52 L888.47 524.70 L888.95 524.91 L889.44 525.15 L889.92 525.41 L890.40 525.70 L890.88 526.02 L891.36 526.35 L891.83 526.71 L892.30 527.08 L892.76 527.48 L893.23 527.90 L893.68 528.33 L894.14 528.78 L894.59 529.24 L895.03 529.72 L895.47 530.21 L895.91 530.71 L896.34 531.22 L896.77 531.74 L897.20 532.27 L897.62 532.81 L898.04 533.35 L898.45 533.89 L898.86 534.44 L899.26 534.99 L899.66 535.54 L900.06 536.09 L900.45 536.64 L900.83 537.19 L901.22 537.73 L901.59 538.26 L901.97 538.79 L902.34 539.31 L902.70 539.82 L903.06 540.33 L903.42 540.82 L903.77 541.30 L904.12 541.76 L904.47 542.22 L904.81 542.66 L905.15 543.08 L905.48 543.49 L905.81 543.88 L906.14 544.25 L906.46 544.60 L906.78 544.94 L907.10 545.26 L907.42 545.56 L907.73 545.84 L908.05 546.10 L908.36 546.34 L908.67 546.56 L908.99 546.77 L909.31 546.95 L909.63 547.11 L909.96 547.26 L910.29 547.38 L910.64 547.49 L910.99 547.53 L911.34 547.44 L911.67 547.32 L912.01 547.19 L912.33 547.03 L912.65 546.86 L912.97 546.67 L913.28 546.45 L913.60 546.22 L913.91 545.97 L914.22 545.70 L914.54 545.41 L914.86 545.10 L915.18 544.77 L915.50 544.43 L915.82 544.06 L916.15 543.68 L916.48 543.28 L916.82 542.87 L917.16 542.44 L917.50 541.99 L917.85 541.53 L918.20 541.06 L918.56 540.57 L918.92 540.08 L919.28 539.57 L919.65 539.05 L920.02 538.53 L920.40 537.99 L920.78 537.46 L921.16 536.91 L921.55 536.37 L921.94 535.82 L922.34 535.27 L922.74 534.72 L923.15 534.17 L923.56 533.62 L923.97 533.08 L924.39 532.54 L924.81 532.01 L925.24 531.48 L925.67 530.97 L926.11 530.46 L926.55 529.96 L926.99 529.48 L927.44 529.01 L927.89 528.55 L928.35 528.11 L928.81 527.69 L929.27 527.28 L929.74 526.89 L930.21 526.53 L930.68 526.18 L931.16 525.86 L931.64 525.56 L932.12 525.28 L932.60 525.03 L933.09 524.80 L933.57 524.61 L934.06 524.44 L934.55 524.30 L935.03 524.19 L935.51 524.12 L935.99 524.07 L936.46 524.05 L936.92 524.07 L937.38 524.12 L937.82 524.12 L938.28 524.07 L938.74 524.05 L939.21 524.07 L939.69 524.12 L940.17 524.19 L940.65 524.30 L941.14 524.44 L941.63 524.61 L942.11 524.80 L942.60 525.03 L943.08 525.28 L943.56 525.56 L944.04 525.86 L944.52 526.18 L944.99 526.53 L945.46 526.89 L945.93 527.28 L946.39 527.69 L946.85 528.11 L947.31 528.55 L947.76 529.01 L948.21 529.48 L948.65 529.96 L949.09 530.46 L949.53 530.97 L949.96 531.48 L950.39 532.01 L950.81 532.54 L951.23 533.08 L951.64 533.62 L952.05 534.17 L952.46 534.72 L952.86 535.27 L953.26 535.82 L953.65 536.37 L954.04 536.91 L954.42 537.46 L954.80 537.99 L955.18 538.53 L955.55 539.05 L955.92 539.57 L956.28 540.08 L956.64 540.57 L957.00 541.06 L957.35 541.53 L957.70 541.99 L958.04 542.44 L958.38 542.87 L958.72 543.28 L959.05 543.68 L959.38 544.06 L959.70 544.43 L960.02 544.77 L960.34 545.10 L960.66 545.41 L960.98 545.70 L961.29 545.97 L961.60 546.22 L961.92 546.45 L962.23 546.67 L962.55 546.86 L962.87 547.03 L963.19 547.19 L963.53 547.32 L963.86 547.44 L964.21 547.53 L964.56 547.49 L964.91 547.38 L965.24 547.26 L965.57 547.11 L965.89 546.95 L966.21 546.77 L966.53 546.56 L966.84 546.34 L967.15 546.10 L967.47 545.84 L967.78 545.56 L968.10 545.26 L968.42 544.94 L968.74 544.60 L969.06 544.25 L969.39 543.88 L969.72 543.49 L970.05 543.08 L970.39 542.66 L970.73 542.22 L971.08 541.76 L971.43 541.30 L971.78 540.82 L972.14 540.33 L972.50 539.82 L972.86 539.31 L973.23 538.79 L973.61 538.26 L973.98 537.73 L974.37 537.19 L974.75 536.64 L975.14 536.09 L975.54 535.54 L975.94 534.99 L976.34 534.44 L976.75 533.89 L977.16 533.35 L977.58 532.81 L978.00 532.27 L978.43 531.74 L978.86 531.22 L979.29 530.71 L979.73 530.21 L980.17 529.72 L980.61 529.24 L981.06 528.78 L981.52 528.33 L981.97 527.90 L982.44 527.48 L982.90 527.08 L983.37 526.71 L983.84 526.35 L984.32 526.02 L984.80 525.70 L985.28 525.41 L985.76 525.15 L986.25 524.91 L986.73 524.70 L987.22 524.52 L987.70 524.37 L988.19 524.24 L988.67 524.15 L989.15 524.09 L989.62 524.06 L990.09 524.06 L990.55 524.09 L991.00 524.15 L991.45 524.09 L991.91 524.06 L992.38 524.06 L992.85 524.09 L993.33 524.15 L993.81 524.24 L994.30 524.37 L994.78 524.52 L995.27 524.70 L995.75 524.91 L996.24 525.15 L996.72 525.41 L997.20 525.70 L997.68 526.02 L998.16 526.35 L998.63 526.71 L999.10 527.08 L999.56 527.48 L1000.03 527.90 L1000.48 528.33 L1000.94 528.78 L1001.39 529.24 L1001.83 529.72 L1002.27 530.21 L1002.71 530.71 L1003.14 531.22 L1003.57 531.74 L1004.00 532.27 L1004.42 532.81 L1004.84 533.35 L1005.25 533.89 L1005.66 534.44 L1006.06 534.99 L1006.46 535.54 L1006.86 536.09 L1007.25 536.64 L1007.63 537.19 L1008.02 537.73 L1008.39 538.26 L1008.77 538.79 L1009.14 539.31 L1009.50 539.82 L1009.86 540.33 L1010.22 540.82 L1010.57 541.30 L1010.92 541.76 L1011.27 542.22 L1011.61 542.66 L1011.95 543.08 L1012.28 543.49 L1012.61 543.88 L1012.94 544.25 L1013.26 544.60 L1013.58 544.94 L1013.90 545.26 L1014.22 545.56 L1014.53 545.84 L1014.85 546.10 L1015.16 546.34 L1015.47 546.56 L1015.79 546.77 L1016.11 546.95 L1016.43 547.11 L1016.76 547.26 L1017.09 547.38 L1017.44 547.49 L1017.79 547.53 L1018.14 547.44 L1018.47 547.32 L1018.81 547.19 L1019.13 547.03 L1019.45 546.86 L1019.77 546.67 L1020.08 546.45 L1020.40 546.22 L1020.71 545.97 L1021.02 545.70 L1021.34 545.41 L1021.66 545.10 L1021.98 544.77 L1022.30 544.43 L1022.62 544.06 L1022.95 543.68 L1023.28 543.28 L1023.62 542.87 L1023.96 542.44 L1024.30 541.99 L1024.65 541.53 L1025.00 541.06 L1025.36 540.57 L1025.72 540.08 L1026.08 539.57 L1026.45 539.05 L1026.82 538.53 L1027.20 537.99 L1027.58 537.46 L1027.96 536.91 L1028.35 536.37 L1028.74 535.82 L1029.14 535.27 L1029.54 534.72 L1029.95 534.17 L1030.36 533.62 L1030.77 533.08 L1031.19 532.54 L1031.61 532.01 L1032.04 531.48 L1032.47 530.97 L1032.91 530.46 L1033.35 529.96 L1033.79 529.48 L1034.24 529.01 L1034.69 528.55 L1035.15 528.11 L1035.61 527.69 L1036.07 527.28 L1036.54 526.89 L1037.01 526.53 L1037.48 526.18 L1037.96 525.86 L1038.44 525.56 L1038.92 525.28 L1039.40 525.03 L1039.89 524.80 L1040.37 524.61 L1040.86 524.44 L1041.35 524.30 L1041.83 524.19 L1042.31 524.12 L1042.79 524.07 L1043.26 524.05 L1043.72 524.07 L1044.18 524.12 L1044.62 524.12 L1045.08 524.07 L1045.54 524.05 L1046.01 524.07 L1046.49 524.12 L1046.97 524.19 L1047.45 524.30 L1047.94 524.44 L1048.43 524.61 L1048.91 524.80 L1049.40 525.03 L1049.88 525.28 L1050.36 525.56 L1050.84 525.86 L1051.32 526.18 L1051.79 526.53 L1052.26 526.89 L1052.73 527.28 L1053.19 527.69 L1053.65 528.11 L1054.11 528.55 L1054.56 529.01 L1055.01 529.48 L1055.45 529.96 L1055.89 530.46 L1056.33 530.97 L1056.76 531.48 L1057.19 532.01 L1057.61 532.54 L1058.03 533.08 L1058.44 533.62 L1058.85 534.17 L1059.26 534.72 L1059.66 535.27 L1060.06 535.82 L1060.45 536.37 L1060.84 536.91 L1061.22 537.46 L1061.60 537.99 L1061.98 538.53 L1062.35 539.05 L1062.72 539.57 L1063.08 540.08 L1063.44 540.57 L1063.80 541.06 L1064.15 541.53 L1064.50 541.99 L1064.84 542.44 L1065.18 542.87 L1065.52 543.28 L1065.85 543.68 L1066.18 544.06 L1066.50 544.43 L1066.82 544.77 L1067.14 545.10 L1067.46 545.41 L1067.78 545.70 L1068.04 546.06 L1068.31 546.41 L1068.59 546.72 L1068.89 547.01 L1069.21 547.27 L1069.54 547.51 L1069.89 547.71 L1070.25 547.87 L1070.62 548.01 L1071.00 548.11 L1071.00 548.39 L1070.58 548.45 L1070.15 548.49 L1069.71 548.52 L1069.26 548.53 L1068.79 548.52 L1068.31 548.48 L1067.81 548.43 L1067.29 548.35 L1066.76 548.25 L1066.22 548.13 L1065.74 547.89 L1065.26 547.62 L1064.78 547.32 L1064.30 547.00 L1063.82 546.66 L1063.35 546.30 L1062.88 545.92 L1062.42 545.52 L1061.96 545.10 L1061.50 544.66 L1061.05 544.21 L1060.60 543.74 L1060.16 543.26 L1059.72 542.77 L1059.28 542.26 L1058.85 541.75 L1058.42 541.23 L1058.00 540.69 L1057.58 540.16 L1057.16 539.62 L1056.75 539.07 L1056.34 538.52 L1055.94 537.97 L1055.54 537.42 L1055.15 536.87 L1054.76 536.32 L1054.37 535.78 L1053.99 535.24 L1053.61 534.71 L1053.24 534.18 L1052.87 533.66 L1052.51 533.15 L1052.15 532.65 L1051.79 532.16 L1051.44 531.68 L1051.09 531.22 L1050.75 530.77 L1050.41 530.34 L1050.07 529.92 L1049.74 529.51 L1049.41 529.13 L1049.08 528.76 L1048.76 528.41 L1048.44 528.08 L1048.12 527.77 L1047.80 527.47 L1047.49 527.20 L1047.17 526.94 L1046.86 526.70 L1046.55 526.48 L1046.23 526.29 L1045.91 526.11 L1045.59 525.95 L1045.26 525.81 L1044.92 525.69 L1044.58 525.59 L1044.22 525.59 L1043.88 525.69 L1043.54 525.81 L1043.21 525.95 L1042.89 526.11 L1042.57 526.29 L1042.25 526.48 L1041.94 526.70 L1041.63 526.94 L1041.31 527.20 L1041.00 527.47 L1040.68 527.77 L1040.36 528.08 L1040.04 528.41 L1039.72 528.76 L1039.39 529.13 L1039.06 529.51 L1038.73 529.92 L1038.39 530.34 L1038.05 530.77 L1037.71 531.22 L1037.36 531.68 L1037.01 532.16 L1036.65 532.65 L1036.29 533.15 L1035.93 533.66 L1035.56 534.18 L1035.19 534.71 L1034.81 535.24 L1034.43 535.78 L1034.04 536.32 L1033.65 536.87 L1033.26 537.42 L1032.86 537.97 L1032.46 538.52 L1032.05 539.07 L1031.64 539.62 L1031.22 540.16 L1030.80 540.69 L1030.38 541.23 L1029.95 541.75 L1029.52 542.26 L1029.08 542.77 L1028.64 543.26 L1028.20 543.74 L1027.75 544.21 L1027.30 544.66 L1026.84 545.10 L1026.38 545.52 L1025.92 545.92 L1025.45 546.30 L1024.98 546.66 L1024.50 547.00 L1024.02 547.32 L1023.54 547.62 L1023.06 547.89 L1022.58 548.13 L1022.09 548.35 L1021.60 548.54 L1021.12 548.70 L1020.63 548.83 L1020.15 548.93 L1019.67 549.00 L1019.19 549.04 L1018.73 549.04 L1018.26 549.02 L1017.81 548.97 L1017.36 549.00 L1016.91 549.04 L1016.44 549.04 L1015.97 549.02 L1015.49 548.97 L1015.01 548.88 L1014.53 548.77 L1014.04 548.62 L1013.55 548.45 L1013.07 548.24 L1012.58 548.01 L1012.10 547.75 L1011.62 547.47 L1011.14 547.17 L1010.66 546.84 L1010.19 546.48 L1009.72 546.11 L1009.25 545.72 L1008.79 545.31 L1008.33 544.88 L1007.88 544.44 L1007.43 543.98 L1006.98 543.50 L1006.54 543.01 L1006.10 542.52 L1005.66 542.01 L1005.23 541.49 L1004.81 540.96 L1004.38 540.43 L1003.97 539.89 L1003.55 539.34 L1003.14 538.80 L1002.74 538.25 L1002.34 537.70 L1001.94 537.14 L1001.55 536.60 L1001.16 536.05 L1000.78 535.51 L1000.40 534.97 L1000.03 534.44 L999.66 533.92 L999.29 533.40 L998.93 532.90 L998.57 532.40 L998.21 531.92 L997.86 531.45 L997.52 530.99 L997.17 530.55 L996.84 530.13 L996.50 529.71 L996.17 529.32 L995.84 528.94 L995.52 528.58 L995.20 528.24 L994.88 527.92 L994.56 527.62 L994.25 527.33 L993.93 527.07 L993.62 526.82 L993.30 526.59 L992.99 526.38 L992.67 526.19 L992.35 526.02 L992.02 525.87 L991.69 525.75 L991.35 525.64 L991.00 525.55 L990.65 525.64 L990.31 525.75 L989.98 525.87 L989.65 526.02 L989.33 526.19 L989.01 526.38 L988.70 526.59 L988.38 526.82 L988.07 527.07 L987.75 527.33 L987.44 527.62 L987.12 527.92 L986.80 528.24 L986.48 528.58 L986.16 528.94 L985.83 529.32 L985.50 529.71 L985.16 530.13 L984.83 530.55 L984.48 530.99 L984.14 531.45 L983.79 531.92 L983.43 532.40 L983.07 532.90 L982.71 533.40 L982.34 533.92 L981.97 534.44 L981.60 534.97 L981.22 535.51 L980.84 536.05 L980.45 536.60 L980.06 537.14 L979.66 537.70 L979.26 538.25 L978.86 538.80 L978.45 539.34 L978.03 539.89 L977.62 540.43 L977.19 540.96 L976.77 541.49 L976.34 542.01 L975.90 542.52 L975.46 543.01 L975.02 543.50 L974.57 543.98 L974.12 544.44 L973.67 544.88 L973.21 545.31 L972.75 545.72 L972.28 546.11 L971.81 546.48 L971.34 546.84 L970.86 547.17 L970.38 547.47 L969.90 547.75 L969.42 548.01 L968.93 548.24 L968.45 548.45 L967.96 548.62 L967.47 548.77 L966.99 548.88 L966.51 548.97 L966.03 549.02 L965.56 549.04 L965.09 549.04 L964.64 549.00 L964.19 548.97 L963.74 549.02 L963.27 549.04 L962.81 549.04 L962.33 549.00 L961.85 548.93 L961.37 548.83 L960.88 548.70 L960.40 548.54 L959.91 548.35 L959.42 548.13 L958.94 547.89 L958.46 547.62 L957.98 547.32 L957.50 547.00 L957.02 546.66 L956.55 546.30 L956.08 545.92 L955.62 545.52 L955.16 545.10 L954.70 544.66 L954.25 544.21 L953.80 543.74 L953.36 543.26 L952.92 542.77 L952.48 542.26 L952.05 541.75 L951.62 541.23 L951.20 540.69 L950.78 540.16 L950.36 539.62 L949.95 539.07 L949.54 538.52 L949.14 537.97 L948.74 537.42 L948.35 536.87 L947.96 536.32 L947.57 535.78 L947.19 535.24 L946.81 534.71 L946.44 534.18 L946.07 533.66 L945.71 533.15 L945.35 532.65 L944.99 532.16 L944.64 531.68 L944.29 531.22 L943.95 530.77 L943.61 530.34 L943.27 529.92 L942.94 529.51 L942.61 529.13 L942.28 528.76 L941.96 528.41 L941.64 528.08 L941.32 527.77 L941.00 527.47 L940.69 527.20 L940.37 526.94 L940.06 526.70 L939.75 526.48 L939.43 526.29 L939.11 526.11 L938.79 525.95 L938.46 525.81 L938.12 525.69 L937.78 525.59 L937.42 525.59 L937.08 525.69 L936.74 525.81 L936.41 525.95 L936.09 526.11 L935.77 526.29 L935.45 526.48 L935.14 526.70 L934.83 526.94 L934.51 527.20 L934.20 527.47 L933.88 527.77 L933.56 528.08 L933.24 528.41 L932.92 528.76 L932.59 529.13 L932.26 529.51 L931.93 529.92 L931.59 530.34 L931.25 530.77 L930.91 531.22 L930.56 531.68 L930.21 532.16 L929.85 532.65 L929.49 533.15 L929.13 533.66 L928.76 534.18 L928.39 534.71 L928.01 535.24 L927.63 535.78 L927.24 536.32 L926.85 536.87 L926.46 537.42 L926.06 537.97 L925.66 538.52 L925.25 539.07 L924.84 539.62 L924.42 540.16 L924.00 540.69 L923.58 541.23 L923.15 541.75 L922.72 542.26 L922.28 542.77 L921.84 543.26 L921.40 543.74 L920.95 544.21 L920.50 544.66 L920.04 545.10 L919.58 545.52 L919.12 545.92 L918.65 546.30 L918.18 546.66 L917.70 547.00 L917.22 547.32 L916.74 547.62 L916.26 547.89 L915.78 548.13 L915.29 548.35 L914.80 548.54 L914.32 548.70 L913.83 548.83 L913.35 548.93 L912.87 549.00 L912.39 549.04 L911.93 549.04 L911.46 549.02 L911.01 548.97 L910.56 549.00 L910.11 549.04 L909.64 549.04 L909.17 549.02 L908.69 548.97 L908.21 548.88 L907.73 548.77 L907.24 548.62 L906.75 548.45 L906.27 548.24 L905.78 548.01 L905.30 547.75 L904.82 547.47 L904.34 547.17 L903.86 546.84 L903.39 546.48 L902.92 546.11 L902.45 545.72 L901.99 545.31 L901.53 544.88 L901.08 544.44 L900.63 543.98 L900.18 543.50 L899.74 543.01 L899.30 542.52 L898.86 542.01 L898.43 541.49 L898.01 540.96 L897.58 540.43 L897.17 539.89 L896.75 539.34 L896.34 538.80 L895.94 538.25 L895.54 537.70 L895.14 537.14 L894.75 536.60 L894.36 536.05 L893.98 535.51 L893.60 534.97 L893.23 534.44 L892.86 533.92 L892.49 533.40 L892.13 532.90 L891.77 532.40 L891.41 531.92 L891.06 531.45 L890.72 530.99 L890.37 530.55 L890.04 530.13 L889.70 529.71 L889.37 529.32 L889.04 528.94 L888.72 528.58 L888.40 528.24 L888.08 527.92 L887.76 527.62 L887.45 527.33 L887.13 527.07 L886.82 526.82 L886.50 526.59 L886.19 526.38 L885.87 526.19 L885.55 526.02 L885.22 525.87 L884.89 525.75 L884.55 525.64 L884.20 525.55 L883.85 525.64 L883.51 525.75 L883.18 525.87 L882.85 526.02 L882.53 526.19 L882.21 526.38 L881.90 526.59 L881.58 526.82 L881.27 527.07 L880.95 527.33 L880.64 527.62 L880.32 527.92 L880.00 528.24 L879.68 528.58 L879.36 528.94 L879.03 529.32 L878.70 529.71 L878.36 530.13 L878.03 530.55 L877.68 530.99 L877.34 531.45 L876.99 531.92 L876.63 532.40 L876.27 532.90 L875.91 533.40 L875.54 533.92 L875.17 534.44 L874.80 534.97 L874.42 535.51 L874.04 536.05 L873.65 536.60 L873.26 537.14 L872.86 537.70 L872.46 538.25 L872.06 538.80 L871.65 539.34 L871.23 539.89 L870.82 540.43 L870.39 540.96 L869.97 541.49 L869.54 542.01 L869.10 542.52 L868.66 543.01 L868.22 543.50 L867.77 543.98 L867.32 544.44 L866.87 544.88 L866.41 545.31 L865.95 545.72 L865.48 546.11 L865.01 546.48 L864.54 546.84 L864.06 547.17 L863.58 547.47 L863.10 547.75 L862.62 548.01 L862.13 548.24 L861.65 548.45 L861.16 548.62 L860.67 548.77 L860.19 548.88 L859.71 548.97 L859.23 549.02 L858.76 549.04 L858.29 549.04 L857.84 549.00 L857.39 548.97 L856.94 549.02 L856.47 549.04 L856.01 549.04 L855.53 549.00 L855.05 548.93 L854.57 548.83 L854.08 548.70 L853.60 548.54 L853.11 548.35 L852.62 548.13 L852.14 547.89 L851.66 547.62 L851.18 547.32 L850.70 547.00 L850.22 546.66 L849.75 546.30 L849.28 545.92 L848.82 545.52 L848.36 545.10 L847.90 544.66 L847.45 544.21 L847.00 543.74 L846.56 543.26 L846.12 542.77 L845.68 542.26 L845.25 541.75 L844.82 541.23 L844.40 540.69 L843.98 540.16 L843.56 539.62 L843.15 539.07 L842.74 538.52 L842.34 537.97 L841.94 537.42 L841.55 536.87 L841.16 536.32 L840.77 535.78 L840.39 535.24 L840.01 534.71 L839.64 534.18 L839.27 533.66 L838.91 533.15 L838.55 532.65 L838.19 532.16 L837.84 531.68 L837.49 531.22 L837.15 530.77 L836.81 530.34 L836.47 529.92 L836.14 529.51 L835.81 529.13 L835.48 528.76 L835.16 528.41 L834.84 528.08 L834.52 527.77 L834.20 527.47 L833.89 527.20 L833.57 526.94 L833.26 526.70 L832.95 526.48 L832.63 526.29 L832.31 526.11 L831.99 525.95 L831.66 525.81 L831.32 525.69 L830.98 525.59 L830.62 525.59 L830.28 525.69 L829.94 525.81 L829.61 525.95 L829.29 526.11 L828.97 526.29 L828.65 526.48 L828.34 526.70 L828.03 526.94 L827.71 527.20 L827.40 527.47 L827.08 527.77 L826.76 528.08 L826.44 528.41 L826.12 528.76 L825.79 529.13 L825.46 529.51 L825.13 529.92 L824.79 530.34 L824.45 530.77 L824.11 531.22 L823.76 531.68 L823.41 532.16 L823.05 532.65 L822.69 533.15 L822.33 533.66 L821.96 534.18 L821.59 534.71 L821.21 535.24 L820.83 535.78 L820.44 536.32 L820.05 536.87 L819.66 537.42 L819.26 537.97 L818.86 538.52 L818.45 539.07 L818.04 539.62 L817.62 540.16 L817.20 540.69 L816.78 541.23 L816.35 541.75 L815.92 542.26 L815.48 542.77 L815.04 543.26 L814.60 543.74 L814.15 544.21 L813.70 544.66 L813.24 545.10 L812.78 545.52 L812.32 545.92 L811.85 546.30 L811.38 546.66 L810.90 547.00 L810.42 547.32 L809.94 547.62 L809.46 547.89 L808.98 548.13 L808.49 548.35 L808.00 548.54 L807.52 548.70 L807.03 548.83 L806.55 548.93 L806.07 549.00 L805.59 549.04 L805.13 549.04 L804.66 549.02 L804.21 548.97 L803.76 549.00 L803.31 549.04 L802.84 549.04 L802.37 549.02 L801.89 548.97 L801.41 548.88 L800.93 548.77 L800.44 548.62 L799.95 548.45 L799.47 548.24 L798.98 548.01 L798.50 547.75 L798.02 547.47 L797.54 547.17 L797.06 546.84 L796.59 546.48 L796.12 546.11 L795.65 545.72 L795.19 545.31 L794.73 544.88 L794.28 544.44 L793.83 543.98 L793.38 543.50 L792.94 543.01 L792.50 542.52 L792.06 542.01 L791.63 541.49 L791.21 540.96 L790.78 540.43 L790.37 539.89 L789.95 539.34 L789.54 538.80 L789.14 538.25 L788.74 537.70 L788.34 537.14 L787.95 536.60 L787.56 536.05 L787.18 535.51 L786.80 534.97 L786.43 534.44 L786.06 533.92 L785.69 533.40 L785.33 532.90 L784.97 532.40 L784.61 531.92 L784.26 531.45 L783.92 530.99 L783.57 530.55 L783.24 530.13 L782.90 529.71 L782.57 529.32 L782.24 528.94 L781.92 528.58 L781.60 528.24 L781.28 527.92 L780.96 527.62 L780.65 527.33 L780.38 526.97 L780.11 526.64 L779.82 526.32 L779.52 526.04 L779.20 525.79 L778.87 525.56 L778.52 525.37 L778.16 525.21 L777.79 525.08 L777.40 524.99Z" fill="#d9808f" style="mix-blend-mode:multiply"/><path d="M796.20 524.71 L796.61 524.65 L797.04 524.60 L797.48 524.57 L797.93 524.55 L798.40 524.56 L798.88 524.59 L799.38 524.63 L799.89 524.70 L800.42 524.80 L800.96 524.92 L801.45 525.15 L801.93 525.42 L802.41 525.71 L802.89 526.02 L803.37 526.36 L803.84 526.72 L804.31 527.09 L804.77 527.49 L805.24 527.91 L805.70 528.34 L806.15 528.79 L806.60 529.26 L807.05 529.73 L807.49 530.23 L807.93 530.73 L808.36 531.24 L808.79 531.76 L809.22 532.29 L809.64 532.83 L810.05 533.37 L810.47 533.92 L810.87 534.47 L811.28 535.02 L811.68 535.57 L812.07 536.12 L812.47 536.67 L812.85 537.21 L813.23 537.75 L813.61 538.29 L813.99 538.82 L814.36 539.34 L814.72 539.85 L815.08 540.36 L815.44 540.85 L815.80 541.33 L816.14 541.79 L816.49 542.25 L816.83 542.68 L817.17 543.11 L817.50 543.51 L817.83 543.90 L818.16 544.27 L818.49 544.63 L818.81 544.96 L819.13 545.28 L819.44 545.58 L819.76 545.86 L820.07 546.12 L820.39 546.36 L820.70 546.58 L821.02 546.78 L821.33 546.96 L821.66 547.13 L821.99 547.27 L822.32 547.39 L822.67 547.50 L823.02 547.52 L823.37 547.43 L823.71 547.31 L824.04 547.18 L824.36 547.02 L824.68 546.84 L825.00 546.65 L825.31 546.43 L825.63 546.20 L825.94 545.94 L826.26 545.67 L826.57 545.38 L826.89 545.07 L827.21 544.74 L827.53 544.39 L827.86 544.02 L828.19 543.64 L828.52 543.24 L828.86 542.82 L829.20 542.39 L829.54 541.94 L829.89 541.48 L830.24 541.00 L830.60 540.51 L830.96 540.01 L831.33 539.51 L831.69 538.99 L832.07 538.46 L832.44 537.93 L832.83 537.39 L833.21 536.84 L833.60 536.29 L834.00 535.74 L834.39 535.19 L834.80 534.64 L835.20 534.09 L835.61 533.54 L836.03 533.00 L836.45 532.46 L836.87 531.93 L837.30 531.41 L837.74 530.89 L838.17 530.38 L838.61 529.89 L839.06 529.41 L839.51 528.94 L839.96 528.48 L840.42 528.04 L840.88 527.62 L841.34 527.22 L841.81 526.83 L842.28 526.47 L842.76 526.13 L843.23 525.81 L843.72 525.51 L844.20 525.24 L844.68 524.99 L845.17 524.77 L845.66 524.58 L846.14 524.41 L846.63 524.28 L847.12 524.18 L847.60 524.11 L848.07 524.06 L848.54 524.05 L849.00 524.08 L849.46 524.13 L849.91 524.11 L850.36 524.06 L850.83 524.05 L851.30 524.08 L851.78 524.13 L852.26 524.21 L852.74 524.33 L853.23 524.47 L853.72 524.64 L854.21 524.85 L854.69 525.08 L855.18 525.33 L855.66 525.61 L856.14 525.92 L856.62 526.25 L857.09 526.60 L857.56 526.97 L858.03 527.36 L858.49 527.77 L858.95 528.20 L859.40 528.65 L859.86 529.11 L860.30 529.58 L860.75 530.07 L861.19 530.57 L861.62 531.08 L862.05 531.60 L862.48 532.12 L862.90 532.66 L863.32 533.20 L863.73 533.74 L864.14 534.29 L864.55 534.84 L864.95 535.39 L865.35 535.94 L865.74 536.49 L866.13 537.04 L866.51 537.58 L866.89 538.12 L867.27 538.65 L867.64 539.18 L868.01 539.69 L868.37 540.20 L868.73 540.69 L869.08 541.18 L869.43 541.65 L869.78 542.10 L870.12 542.55 L870.46 542.97 L870.80 543.39 L871.13 543.78 L871.46 544.16 L871.78 544.52 L872.11 544.86 L872.42 545.18 L872.74 545.49 L873.06 545.77 L873.37 546.04 L873.69 546.28 L874.00 546.51 L874.31 546.72 L874.63 546.91 L874.95 547.08 L875.28 547.23 L875.62 547.36 L875.96 547.47 L876.31 547.55 L876.66 547.46 L877.00 547.35 L877.33 547.22 L877.66 547.07 L877.98 546.90 L878.30 546.71 L878.61 546.50 L878.93 546.27 L879.24 546.03 L879.56 545.76 L879.87 545.47 L880.19 545.17 L880.51 544.84 L880.83 544.50 L881.16 544.14 L881.48 543.76 L881.82 543.37 L882.15 542.96 L882.49 542.53 L882.83 542.08 L883.18 541.63 L883.53 541.15 L883.89 540.67 L884.25 540.17 L884.61 539.67 L884.98 539.15 L885.35 538.63 L885.72 538.10 L886.10 537.56 L886.49 537.02 L886.88 536.47 L887.27 535.92 L887.67 535.37 L888.07 534.82 L888.47 534.27 L888.88 533.72 L889.30 533.17 L889.72 532.63 L890.14 532.10 L890.57 531.57 L891.00 531.05 L891.43 530.54 L891.87 530.05 L892.32 529.56 L892.76 529.09 L893.21 528.63 L893.67 528.18 L894.13 527.76 L894.59 527.35 L895.06 526.95 L895.53 526.58 L896.00 526.23 L896.48 525.90 L896.96 525.60 L897.44 525.32 L897.93 525.06 L898.41 524.84 L898.90 524.64 L899.39 524.46 L899.88 524.32 L900.36 524.21 L900.84 524.13 L901.32 524.07 L901.79 524.05 L902.26 524.07 L902.71 524.11 L903.16 524.12 L903.62 524.07 L904.08 524.05 L904.55 524.07 L905.03 524.11 L905.51 524.18 L905.99 524.29 L906.48 524.42 L906.96 524.58 L907.45 524.78 L907.94 525.00 L908.42 525.25 L908.91 525.52 L909.39 525.82 L909.86 526.14 L910.34 526.48 L910.81 526.85 L911.28 527.24 L911.74 527.64 L912.20 528.06 L912.66 528.50 L913.11 528.96 L913.56 529.43 L914.01 529.91 L914.45 530.41 L914.88 530.91 L915.32 531.43 L915.74 531.95 L916.17 532.49 L916.59 533.02 L917.00 533.57 L917.41 534.12 L917.82 534.67 L918.22 535.22 L918.62 535.77 L919.02 536.32 L919.41 536.87 L919.79 537.41 L920.17 537.95 L920.55 538.48 L920.92 539.01 L921.29 539.53 L921.65 540.04 L922.01 540.54 L922.37 541.02 L922.72 541.50 L923.07 541.96 L923.41 542.41 L923.75 542.84 L924.09 543.26 L924.42 543.66 L924.75 544.04 L925.08 544.40 L925.40 544.75 L925.72 545.08 L926.04 545.39 L926.36 545.68 L926.67 545.95 L926.99 546.21 L927.30 546.44 L927.61 546.66 L927.93 546.85 L928.25 547.03 L928.58 547.18 L928.91 547.32 L929.25 547.43 L929.59 547.53 L929.95 547.49 L930.29 547.39 L930.63 547.27 L930.96 547.12 L931.28 546.96 L931.60 546.77 L931.91 546.57 L932.23 546.35 L932.54 546.11 L932.86 545.85 L933.17 545.57 L933.49 545.27 L933.81 544.95 L934.13 544.61 L934.45 544.26 L934.78 543.89 L935.11 543.50 L935.44 543.09 L935.78 542.67 L936.12 542.23 L936.47 541.77 L936.82 541.31 L937.17 540.83 L937.53 540.33 L937.89 539.83 L938.26 539.32 L938.63 538.80 L939.00 538.27 L939.38 537.73 L939.76 537.19 L940.15 536.64 L940.54 536.09 L940.94 535.54 L941.34 534.99 L941.74 534.44 L942.15 533.89 L942.56 533.35 L942.98 532.81 L943.40 532.27 L943.83 531.74 L944.26 531.22 L944.69 530.71 L945.13 530.20 L945.57 529.71 L946.02 529.24 L946.47 528.77 L946.92 528.32 L947.38 527.89 L947.85 527.47 L948.31 527.08 L948.78 526.70 L949.25 526.34 L949.73 526.01 L950.21 525.69 L950.69 525.41 L951.17 525.14 L951.66 524.91 L952.15 524.70 L952.63 524.51 L953.12 524.36 L953.61 524.24 L954.09 524.15 L954.57 524.09 L955.04 524.06 L955.51 524.06 L955.97 524.09 L956.42 524.15 L956.87 524.09 L957.33 524.06 L957.80 524.06 L958.27 524.09 L958.75 524.15 L959.24 524.25 L959.72 524.37 L960.21 524.53 L960.70 524.71 L961.18 524.93 L961.67 525.17 L962.15 525.43 L962.63 525.72 L963.11 526.04 L963.59 526.37 L964.06 526.73 L964.53 527.11 L965.00 527.51 L965.46 527.93 L965.91 528.36 L966.37 528.81 L966.82 529.28 L967.27 529.76 L967.71 530.25 L968.14 530.75 L968.58 531.26 L969.01 531.79 L969.43 532.32 L969.85 532.85 L970.27 533.39 L970.68 533.94 L971.09 534.49 L971.50 535.04 L971.90 535.59 L972.29 536.14 L972.68 536.69 L973.07 537.24 L973.45 537.78 L973.83 538.31 L974.20 538.84 L974.57 539.36 L974.94 539.88 L975.30 540.38 L975.66 540.87 L976.01 541.35 L976.36 541.81 L976.71 542.27 L977.05 542.70 L977.38 543.12 L977.72 543.53 L978.05 543.92 L978.38 544.29 L978.70 544.64 L979.02 544.98 L979.34 545.29 L979.66 545.59 L979.97 545.87 L980.29 546.13 L980.60 546.37 L980.91 546.59 L981.23 546.79 L981.55 546.97 L981.87 547.13 L982.20 547.28 L982.54 547.40 L982.88 547.50 L983.24 547.52 L983.58 547.42 L983.92 547.31 L984.25 547.17 L984.58 547.01 L984.90 546.83 L985.21 546.64 L985.53 546.42 L985.84 546.19 L986.16 545.93 L986.47 545.66 L986.79 545.36 L987.10 545.05 L987.42 544.72 L987.75 544.37 L988.07 544.01 L988.40 543.62 L988.74 543.22 L989.07 542.80 L989.42 542.37 L989.76 541.92 L990.11 541.46 L990.46 540.98 L990.82 540.49 L991.18 539.99 L991.54 539.48 L991.91 538.96 L992.28 538.44 L992.66 537.90 L993.04 537.36 L993.43 536.82 L993.82 536.27 L994.21 535.72 L994.61 535.17 L995.01 534.62 L995.42 534.07 L995.83 533.52 L996.25 532.98 L996.67 532.44 L997.09 531.91 L997.52 531.38 L997.95 530.87 L998.39 530.36 L998.83 529.87 L999.28 529.39 L999.73 528.92 L1000.18 528.46 L1000.64 528.03 L1001.10 527.60 L1001.56 527.20 L1002.03 526.82 L1002.50 526.45 L1002.98 526.11 L1003.46 525.79 L1003.94 525.50 L1004.42 525.22 L1004.90 524.98 L1005.39 524.76 L1005.88 524.57 L1006.37 524.41 L1006.85 524.28 L1007.34 524.17 L1007.82 524.10 L1008.29 524.06 L1008.76 524.06 L1009.22 524.08 L1009.68 524.13 L1010.13 524.10 L1010.58 524.06 L1011.05 524.06 L1011.52 524.08 L1012.00 524.13 L1012.48 524.22 L1012.97 524.33 L1013.45 524.48 L1013.94 524.65 L1014.43 524.86 L1014.91 525.09 L1015.40 525.34 L1015.88 525.63 L1016.36 525.93 L1016.84 526.26 L1017.31 526.61 L1017.78 526.99 L1018.25 527.38 L1018.71 527.79 L1019.17 528.22 L1019.62 528.67 L1020.08 529.13 L1020.52 529.60 L1020.97 530.09 L1021.41 530.59 L1021.84 531.10 L1022.27 531.62 L1022.70 532.15 L1023.12 532.68 L1023.54 533.22 L1023.95 533.77 L1024.36 534.31 L1024.77 534.86 L1025.17 535.42 L1025.57 535.97 L1025.96 536.52 L1026.35 537.06 L1026.73 537.61 L1027.11 538.14 L1027.48 538.67 L1027.86 539.20 L1028.22 539.71 L1028.59 540.22 L1028.94 540.71 L1029.30 541.20 L1029.65 541.67 L1030.00 542.12 L1030.34 542.57 L1030.68 542.99 L1031.01 543.40 L1031.34 543.80 L1031.67 544.17 L1032.00 544.53 L1032.32 544.87 L1032.64 545.20 L1032.96 545.50 L1033.27 545.78 L1033.59 546.05 L1033.90 546.29 L1034.21 546.52 L1034.53 546.73 L1034.85 546.92 L1035.17 547.08 L1035.50 547.23 L1035.83 547.36 L1036.17 547.47 L1036.52 547.55 L1036.87 547.46 L1037.21 547.35 L1037.55 547.22 L1037.87 547.06 L1038.20 546.89 L1038.51 546.70 L1038.83 546.49 L1039.14 546.26 L1039.46 546.01 L1039.77 545.75 L1040.09 545.46 L1040.40 545.15 L1040.72 544.83 L1041.04 544.49 L1041.37 544.13 L1041.70 543.75 L1042.03 543.35 L1042.37 542.94 L1042.71 542.51 L1043.05 542.06 L1043.40 541.61 L1043.75 541.13 L1044.10 540.65 L1044.46 540.15 L1044.82 539.65 L1045.19 539.13 L1045.56 538.61 L1045.94 538.07 L1046.32 537.54 L1046.70 536.99 L1047.09 536.44 L1047.49 535.90 L1047.88 535.34 L1048.28 534.79 L1048.69 534.24 L1049.10 533.69 L1049.52 533.15 L1049.93 532.61 L1050.36 532.08 L1050.78 531.55 L1051.22 531.03 L1051.65 530.52 L1052.09 530.02 L1052.53 529.54 L1052.98 529.07 L1053.43 528.61 L1053.89 528.16 L1054.35 527.74 L1054.81 527.33 L1055.28 526.94 L1055.75 526.57 L1056.23 526.22 L1056.70 525.89 L1057.18 525.59 L1057.66 525.31 L1058.15 525.05 L1058.64 524.83 L1059.12 524.63 L1059.61 524.46 L1060.10 524.31 L1060.58 524.20 L1061.06 524.12 L1061.54 524.07 L1062.01 524.05 L1062.48 524.07 L1062.93 524.11 L1063.38 524.12 L1063.84 524.07 L1064.30 524.05 L1064.77 524.07 L1065.25 524.11 L1065.73 524.19 L1066.21 524.29 L1066.70 524.43 L1067.18 524.59 L1067.67 524.79 L1068.16 525.01 L1068.64 525.26 L1069.13 525.53 L1069.61 525.83 L1070.08 526.15 L1070.56 526.50 L1071.03 526.87 L1071.50 527.25 L1071.96 527.66 L1072.42 528.08 L1072.88 528.52 L1073.33 528.98 L1073.78 529.45 L1074.23 529.93 L1074.67 530.43 L1075.10 530.93 L1075.53 531.45 L1075.96 531.98 L1076.39 532.51 L1076.81 533.05 L1077.22 533.59 L1077.63 534.14 L1078.04 534.69 L1078.44 535.24 L1078.84 535.79 L1079.23 536.34 L1079.62 536.89 L1080.01 537.43 L1080.39 537.97 L1080.77 538.51 L1081.14 539.03 L1081.51 539.55 L1081.87 540.06 L1082.23 540.56 L1082.59 541.04 L1082.94 541.52 L1083.29 541.98 L1083.63 542.43 L1083.97 542.86 L1084.31 543.27 L1084.64 543.67 L1084.97 544.06 L1085.29 544.42 L1085.62 544.77 L1085.94 545.09 L1086.25 545.40 L1086.57 545.69 L1086.89 545.97 L1087.20 546.22 L1087.51 546.45 L1087.79 546.75 L1088.09 547.02 L1088.40 547.27 L1088.73 547.48 L1089.07 547.67 L1089.43 547.82 L1089.80 547.93 L1090.19 547.97 L1090.57 547.98 L1090.97 547.97 L1091.03 548.33 L1090.63 548.44 L1090.21 548.51 L1089.79 548.57 L1089.36 548.64 L1088.92 548.70 L1088.46 548.74 L1087.99 548.76 L1087.50 548.76 L1087.00 548.74 L1086.48 548.70 L1085.99 548.53 L1085.50 548.34 L1085.02 548.13 L1084.53 547.88 L1084.05 547.61 L1083.57 547.31 L1083.09 547.00 L1082.61 546.65 L1082.14 546.29 L1081.67 545.91 L1081.21 545.50 L1080.75 545.08 L1080.29 544.65 L1079.84 544.19 L1079.39 543.72 L1078.94 543.24 L1078.50 542.75 L1078.06 542.24 L1077.63 541.73 L1077.20 541.20 L1076.78 540.67 L1076.36 540.13 L1075.94 539.59 L1075.53 539.04 L1075.12 538.49 L1074.72 537.94 L1074.32 537.39 L1073.93 536.84 L1073.54 536.29 L1073.15 535.75 L1072.77 535.21 L1072.39 534.68 L1072.02 534.15 L1071.65 533.63 L1071.28 533.12 L1070.92 532.62 L1070.57 532.13 L1070.22 531.65 L1069.87 531.19 L1069.52 530.74 L1069.18 530.31 L1068.84 529.89 L1068.51 529.49 L1068.18 529.10 L1067.86 528.73 L1067.53 528.38 L1067.21 528.05 L1066.89 527.74 L1066.58 527.45 L1066.26 527.17 L1065.95 526.92 L1065.64 526.68 L1065.32 526.47 L1065.00 526.27 L1064.68 526.09 L1064.36 525.93 L1064.03 525.80 L1063.69 525.68 L1063.34 525.58 L1062.99 525.60 L1062.65 525.70 L1062.31 525.82 L1061.98 525.96 L1061.66 526.12 L1061.34 526.31 L1061.02 526.51 L1060.71 526.73 L1060.39 526.97 L1060.08 527.22 L1059.76 527.50 L1059.45 527.80 L1059.13 528.11 L1058.81 528.45 L1058.48 528.80 L1058.16 529.17 L1057.83 529.56 L1057.49 529.97 L1057.15 530.39 L1056.81 530.82 L1056.47 531.28 L1056.12 531.74 L1055.77 532.22 L1055.41 532.71 L1055.05 533.21 L1054.68 533.73 L1054.31 534.25 L1053.94 534.78 L1053.56 535.31 L1053.18 535.85 L1052.79 536.40 L1052.40 536.95 L1052.00 537.50 L1051.60 538.05 L1051.20 538.60 L1050.79 539.15 L1050.38 539.69 L1049.96 540.24 L1049.54 540.77 L1049.12 541.30 L1048.69 541.83 L1048.25 542.34 L1047.82 542.84 L1047.37 543.33 L1046.93 543.81 L1046.48 544.28 L1046.02 544.73 L1045.57 545.16 L1045.11 545.58 L1044.64 545.98 L1044.17 546.36 L1043.70 546.72 L1043.22 547.06 L1042.74 547.37 L1042.26 547.66 L1041.78 547.93 L1041.29 548.17 L1040.81 548.38 L1040.32 548.57 L1039.83 548.72 L1039.35 548.85 L1038.86 548.94 L1038.38 549.01 L1037.91 549.04 L1037.44 549.04 L1036.98 549.01 L1036.53 548.95 L1036.08 549.01 L1035.62 549.04 L1035.15 549.04 L1034.68 549.01 L1034.20 548.95 L1033.72 548.86 L1033.23 548.74 L1032.74 548.59 L1032.26 548.41 L1031.77 548.20 L1031.28 547.96 L1030.80 547.70 L1030.32 547.41 L1029.84 547.10 L1029.36 546.77 L1028.89 546.41 L1028.42 546.03 L1027.96 545.63 L1027.49 545.22 L1027.03 544.79 L1026.58 544.34 L1026.13 543.88 L1025.68 543.40 L1025.24 542.91 L1024.80 542.41 L1024.37 541.89 L1023.94 541.37 L1023.51 540.84 L1023.09 540.31 L1022.67 539.76 L1022.26 539.22 L1021.85 538.67 L1021.45 538.12 L1021.05 537.57 L1020.65 537.02 L1020.26 536.47 L1019.87 535.92 L1019.49 535.38 L1019.11 534.84 L1018.74 534.31 L1018.37 533.79 L1018.00 533.28 L1017.64 532.78 L1017.28 532.28 L1016.93 531.80 L1016.58 531.34 L1016.23 530.88 L1015.89 530.44 L1015.55 530.02 L1015.22 529.61 L1014.89 529.22 L1014.56 528.85 L1014.23 528.49 L1013.91 528.16 L1013.59 527.84 L1013.28 527.54 L1012.96 527.26 L1012.65 527.00 L1012.34 526.76 L1012.02 526.53 L1011.70 526.33 L1011.39 526.15 L1011.06 525.98 L1010.73 525.84 L1010.40 525.71 L1010.05 525.61 L1009.70 525.57 L1009.35 525.66 L1009.02 525.78 L1008.68 525.91 L1008.36 526.07 L1008.04 526.25 L1007.72 526.44 L1007.41 526.65 L1007.09 526.89 L1006.78 527.14 L1006.46 527.41 L1006.15 527.70 L1005.83 528.01 L1005.51 528.34 L1005.19 528.69 L1004.86 529.05 L1004.53 529.44 L1004.20 529.84 L1003.86 530.25 L1003.52 530.68 L1003.18 531.13 L1002.83 531.59 L1002.48 532.07 L1002.12 532.55 L1001.76 533.05 L1001.40 533.56 L1001.03 534.08 L1000.66 534.61 L1000.28 535.14 L999.90 535.68 L999.51 536.22 L999.12 536.77 L998.73 537.32 L998.33 537.87 L997.93 538.42 L997.52 538.97 L997.11 539.52 L996.70 540.06 L996.28 540.60 L995.85 541.14 L995.43 541.66 L994.99 542.18 L994.56 542.68 L994.12 543.18 L993.67 543.66 L993.22 544.13 L992.77 544.59 L992.31 545.03 L991.85 545.45 L991.39 545.86 L990.92 546.24 L990.45 546.61 L989.97 546.95 L989.50 547.27 L989.02 547.57 L988.53 547.85 L988.05 548.10 L987.56 548.32 L987.07 548.51 L986.59 548.68 L986.10 548.81 L985.62 548.92 L985.14 548.99 L984.66 549.03 L984.19 549.05 L983.73 549.03 L983.27 548.98 L982.82 548.99 L982.37 549.03 L981.90 549.05 L981.43 549.03 L980.95 548.98 L980.47 548.89 L979.99 548.78 L979.50 548.64 L979.01 548.47 L978.53 548.27 L978.04 548.04 L977.55 547.79 L977.07 547.51 L976.59 547.20 L976.11 546.87 L975.64 546.52 L975.17 546.15 L974.70 545.76 L974.24 545.35 L973.78 544.93 L973.32 544.48 L972.87 544.02 L972.43 543.55 L971.98 543.06 L971.54 542.57 L971.11 542.06 L970.67 541.54 L970.25 541.01 L969.82 540.48 L969.41 539.94 L968.99 539.39 L968.58 538.85 L968.18 538.30 L967.77 537.74 L967.38 537.19 L966.98 536.64 L966.60 536.10 L966.21 535.55 L965.83 535.01 L965.46 534.48 L965.08 533.96 L964.72 533.44 L964.35 532.94 L963.99 532.44 L963.64 531.96 L963.29 531.48 L962.94 531.03 L962.60 530.58 L962.26 530.15 L961.92 529.74 L961.59 529.35 L961.26 528.97 L960.94 528.61 L960.62 528.26 L960.30 527.94 L959.98 527.63 L959.66 527.35 L959.35 527.08 L959.04 526.83 L958.72 526.60 L958.41 526.39 L958.09 526.20 L957.77 526.03 L957.44 525.88 L957.11 525.75 L956.77 525.64 L956.42 525.55 L956.06 525.63 L955.72 525.74 L955.39 525.87 L955.06 526.02 L954.74 526.19 L954.42 526.38 L954.11 526.58 L953.79 526.81 L953.48 527.06 L953.16 527.32 L952.85 527.61 L952.53 527.91 L952.21 528.23 L951.89 528.57 L951.57 528.93 L951.24 529.31 L950.91 529.71 L950.57 530.12 L950.23 530.54 L949.89 530.99 L949.54 531.44 L949.19 531.91 L948.84 532.40 L948.48 532.89 L948.11 533.40 L947.75 533.91 L947.38 534.44 L947.00 534.97 L946.62 535.51 L946.24 536.05 L945.85 536.60 L945.46 537.14 L945.06 537.70 L944.66 538.25 L944.25 538.80 L943.84 539.35 L943.43 539.89 L943.01 540.43 L942.59 540.97 L942.16 541.49 L941.73 542.01 L941.30 542.52 L940.86 543.02 L940.41 543.51 L939.97 543.98 L939.51 544.44 L939.06 544.89 L938.60 545.32 L938.14 545.73 L937.67 546.12 L937.20 546.49 L936.73 546.84 L936.25 547.17 L935.77 547.48 L935.29 547.76 L934.80 548.02 L934.32 548.25 L933.83 548.45 L933.34 548.63 L932.86 548.77 L932.37 548.89 L931.89 548.97 L931.41 549.02 L930.94 549.04 L930.47 549.04 L930.02 549.00 L929.57 548.97 L929.11 549.02 L928.65 549.04 L928.18 549.04 L927.71 549.00 L927.23 548.92 L926.74 548.82 L926.26 548.69 L925.77 548.53 L925.28 548.34 L924.79 548.12 L924.31 547.87 L923.83 547.60 L923.34 547.30 L922.87 546.98 L922.39 546.64 L921.92 546.27 L921.45 545.89 L920.99 545.49 L920.53 545.07 L920.07 544.63 L919.62 544.17 L919.17 543.70 L918.72 543.22 L918.28 542.73 L917.84 542.22 L917.41 541.71 L916.98 541.18 L916.56 540.65 L916.14 540.11 L915.72 539.57 L915.31 539.02 L914.91 538.47 L914.50 537.92 L914.10 537.37 L913.71 536.82 L913.32 536.27 L912.93 535.73 L912.55 535.19 L912.18 534.65 L911.80 534.12 L911.43 533.61 L911.07 533.10 L910.71 532.60 L910.35 532.11 L910.00 531.63 L909.65 531.17 L909.31 530.72 L908.97 530.29 L908.63 529.87 L908.30 529.47 L907.97 529.09 L907.64 528.72 L907.32 528.37 L907.00 528.04 L906.68 527.73 L906.36 527.44 L906.05 527.16 L905.74 526.91 L905.42 526.67 L905.11 526.46 L904.79 526.26 L904.47 526.08 L904.14 525.93 L903.81 525.79 L903.48 525.67 L903.13 525.58 L902.78 525.60 L902.43 525.70 L902.09 525.83 L901.77 525.97 L901.44 526.13 L901.12 526.31 L900.81 526.52 L900.49 526.74 L900.18 526.98 L899.86 527.24 L899.55 527.51 L899.23 527.81 L898.91 528.13 L898.59 528.46 L898.27 528.82 L897.94 529.19 L897.61 529.58 L897.28 529.98 L896.94 530.41 L896.60 530.84 L896.25 531.30 L895.90 531.76 L895.55 532.24 L895.19 532.73 L894.83 533.24 L894.47 533.75 L894.10 534.27 L893.72 534.80 L893.34 535.33 L892.96 535.88 L892.57 536.42 L892.18 536.97 L891.79 537.52 L891.39 538.07 L890.98 538.62 L890.57 539.17 L890.16 539.72 L889.75 540.26 L889.32 540.80 L888.90 541.33 L888.47 541.85 L888.04 542.36 L887.60 542.86 L887.16 543.36 L886.71 543.83 L886.26 544.30 L885.80 544.75 L885.35 545.18 L884.89 545.60 L884.42 546.00 L883.95 546.38 L883.48 546.74 L883.00 547.07 L882.52 547.39 L882.04 547.68 L881.56 547.94 L881.07 548.18 L880.59 548.39 L880.10 548.57 L879.61 548.73 L879.12 548.85 L878.64 548.95 L878.16 549.01 L877.69 549.04 L877.22 549.04 L876.76 549.01 L876.31 548.95 L875.86 549.01 L875.40 549.04 L874.93 549.04 L874.46 549.01 L873.98 548.95 L873.50 548.86 L873.01 548.73 L872.52 548.58 L872.04 548.40 L871.55 548.19 L871.06 547.95 L870.58 547.69 L870.10 547.40 L869.62 547.09 L869.14 546.75 L868.67 546.39 L868.20 546.01 L867.74 545.62 L867.27 545.20 L866.81 544.77 L866.36 544.32 L865.91 543.85 L865.46 543.38 L865.02 542.89 L864.58 542.38 L864.15 541.87 L863.72 541.35 L863.29 540.82 L862.87 540.28 L862.46 539.74 L862.04 539.20 L861.63 538.65 L861.23 538.10 L860.83 537.54 L860.43 536.99 L860.04 536.44 L859.66 535.90 L859.27 535.36 L858.90 534.82 L858.52 534.29 L858.15 533.77 L857.78 533.26 L857.42 532.76 L857.07 532.26 L856.71 531.78 L856.36 531.32 L856.02 530.86 L855.68 530.43 L855.34 530.00 L855.00 529.60 L854.67 529.21 L854.34 528.83 L854.02 528.48 L853.70 528.14 L853.38 527.83 L853.06 527.53 L852.75 527.25 L852.44 526.99 L852.12 526.75 L851.81 526.52 L851.49 526.32 L851.17 526.14 L850.85 525.98 L850.52 525.83 L850.18 525.71 L849.84 525.61 L849.49 525.58 L849.14 525.67 L848.80 525.78 L848.47 525.92 L848.14 526.08 L847.82 526.25 L847.51 526.45 L847.19 526.66 L846.88 526.90 L846.56 527.15 L846.25 527.42 L845.93 527.72 L845.62 528.03 L845.30 528.36 L844.97 528.70 L844.65 529.07 L844.32 529.45 L843.98 529.85 L843.65 530.27 L843.31 530.70 L842.96 531.15 L842.61 531.61 L842.26 532.09 L841.91 532.58 L841.55 533.07 L841.18 533.58 L840.81 534.10 L840.44 534.63 L840.06 535.16 L839.68 535.70 L839.30 536.25 L838.91 536.79 L838.51 537.34 L838.12 537.90 L837.71 538.45 L837.31 539.00 L836.89 539.54 L836.48 540.09 L836.06 540.63 L835.64 541.16 L835.21 541.68 L834.77 542.20 L834.34 542.70 L833.90 543.20 L833.45 543.68 L833.00 544.15 L832.55 544.61 L832.09 545.05 L831.63 545.47 L831.17 545.87 L830.70 546.26 L830.23 546.62 L829.75 546.97 L829.28 547.29 L828.80 547.59 L828.31 547.86 L827.83 548.11 L827.34 548.33 L826.85 548.52 L826.37 548.68 L825.88 548.82 L825.40 548.92 L824.91 548.99 L824.44 549.03 L823.97 549.05 L823.51 549.02 L823.05 548.97 L822.60 548.99 L822.15 549.03 L821.68 549.05 L821.21 549.02 L820.73 548.97 L820.25 548.89 L819.77 548.78 L819.28 548.63 L818.79 548.46 L818.30 548.26 L817.82 548.03 L817.33 547.77 L816.85 547.49 L816.37 547.19 L815.89 546.86 L815.42 546.51 L814.95 546.14 L814.48 545.75 L814.02 545.34 L813.56 544.91 L813.11 544.46 L812.65 544.00 L812.21 543.53 L811.76 543.04 L811.32 542.54 L810.89 542.04 L810.46 541.52 L810.03 540.99 L809.61 540.45 L809.19 539.91 L808.77 539.37 L808.36 538.82 L807.96 538.27 L807.56 537.72 L807.16 537.17 L806.77 536.62 L806.38 536.07 L806.00 535.53 L805.62 534.99 L805.24 534.46 L804.87 533.94 L804.50 533.42 L804.14 532.91 L803.78 532.42 L803.42 531.94 L803.07 531.46 L802.73 531.01 L802.38 530.56 L802.04 530.14 L801.71 529.72 L801.38 529.33 L801.05 528.95 L800.72 528.59 L800.40 528.25 L800.08 527.93 L799.76 527.62 L799.45 527.34 L799.19 526.98 L798.91 526.64 L798.63 526.33 L798.32 526.04 L798.01 525.79 L797.67 525.56 L797.32 525.37 L796.96 525.21 L796.59 525.08 L796.20 524.99Z" fill="#8a96c2" style="mix-blend-mode:multiply"/>
<path d="M1080 184 C1068 177 1050 176 1030 186 C1012 195 992 205 978 209.5 M912.8 209 C895 200 866 182 848 174 C830 166 805 170 794 190 C786 205 786 222 789 236 C793 252 805 268 811 281 C814 287 815.5 291 816.5 294 M809 357 C797 374 776 398 772 428 C769 458 790 476 816 474 C840 472 862 452 894 440 M957 450 C968 460 978 474 992 484 C1008 494 1040 490 1046 468 C1050 450 1042 430 1040 400 C1040 370 1052 340 1089 322 M1198 328 L1229 332" fill="none" stroke="#231815" stroke-width="2"/>
<g fill="none" stroke="#d22485" stroke-width="10.5" stroke-linecap="round"><path d="M917.5 211.5 Q945 218 973 211.5"/><path d="M818 299.5 Q820 325 812.5 350.5"/><path d="M898.5 440.5 Q925 442 950.5 449.5"/></g>
<ellipse rx="8.2" ry="9.7" transform="translate(827.2 239.3) rotate(-30)" fill="#cd99c6" stroke="#b48aad" stroke-width="0.5"/>
<ellipse rx="8.2" ry="9.7" transform="translate(1004.5 242.6) rotate(-30)" fill="#cd99c6" stroke="#b48aad" stroke-width="0.5"/>
<ellipse rx="8.2" ry="9.7" transform="translate(924.9 319) rotate(-30)" fill="#cd99c6" stroke="#b48aad" stroke-width="0.5"/>
<rect x="-10.5" y="-6.0" width="21" height="12" transform="translate(985 302.4) rotate(-28)" fill="#48b68e" stroke="#2e4a3c" stroke-width="0.6"/>
<rect x="-10.5" y="-6.0" width="21" height="12" transform="translate(866 338.7) rotate(-28)" fill="#48b68e" stroke="#2e4a3c" stroke-width="0.6"/>
<rect x="-10.5" y="-6.0" width="21" height="12" transform="translate(1016.2 436.3) rotate(-28)" fill="#48b68e" stroke="#2e4a3c" stroke-width="0.6"/>
<g transform="translate(874.3 239.8) rotate(40)"><use href="#sq" transform="translate(16.5 0)"/><use href="#cap"/></g>
<g transform="translate(1036.2 279.7) rotate(-50)"><use href="#sq" transform="translate(16.5 0)"/><use href="#cap"/></g>
<g transform="translate(830.7 404) rotate(10)"><use href="#sq" transform="translate(16.5 0)"/><use href="#cap"/></g>
<g transform="translate(968.8 396.7) rotate(-60)"><use href="#sq" transform="translate(16.5 0)"/><use href="#cap"/></g>
<g stroke="#3a3a3a" stroke-width="0.8" stroke-dasharray="4.5 3.5" fill="none"><line x1="814" y1="479" x2="902" y2="540"/><line x1="1044" y1="479" x2="961" y2="540"/></g>
<path d="M1089.2 313.5 V287 H1140" fill="none" stroke="#231815" stroke-width="1"/>
<path d="M1138 283 L1145 287 L1138 291 Z" fill="#231815"/>
<rect x="1089.2" y="313.9" width="109.2" height="20.4" fill="#f4bfc0"/>
<text x="1093.4" y="329.9" font-size="18" font-weight="bold" font-style="normal" fill="#111" textLength="104.1" lengthAdjust="spacing">Target Gene</text>
<path d="M1154.3 271.3 H1158.5 V292.8 L1163.4 289.6 L1156.4 305.9 L1149.4 289.6 L1154.3 292.8 Z" fill="#d7191c"/>
<text x="85" y="684.7" font-size="26.3" font-weight="bold" font-style="italic" fill="#111" textLength="166.47" lengthAdjust="spacing">F167A/F167A</text>
<path d="M352.9 696.3 H417.5 V687.6 L431.1 708 L417.5 728.6 V717.3 H352.9 Z" fill="url(#fadeB)"/>
<g><path d="M217.19 745.89 L218.95 746.35 L220.77 746.77 L222.60 747.14 L224.44 747.46 L226.30 747.74 L228.17 747.98 L230.05 748.17 L231.95 748.32 L233.85 748.43 L235.77 748.50 L237.70 748.54 L239.63 748.53 L241.58 748.49 L243.53 748.42 L245.49 748.31 L247.46 748.17 L249.43 748.00 L251.41 747.80 L253.39 747.57 L255.39 747.31 L257.38 747.02 L259.38 746.71 L261.38 746.38 L263.38 746.02 L265.39 745.63 L267.40 745.23 L269.41 744.80 L271.41 744.36 L273.42 743.90 L275.37 743.43 L276.75 743.19 L278.16 743.00 L279.54 742.85 L280.90 742.75 L282.24 742.70 L283.55 742.69 L284.83 742.72 L286.09 742.80 L287.32 742.93 L288.51 743.09 L289.68 743.30 L290.82 743.55 L291.92 743.84 L292.99 744.18 L294.02 744.55 L295.02 744.96 L295.98 745.41 L296.90 745.89 L297.79 746.42 L298.63 746.97 L299.44 747.57 L300.21 748.20 L300.93 748.87 L301.61 749.57 L302.25 750.30 L302.85 751.07 L303.40 751.87 L303.91 752.71 L304.37 753.58 L304.79 754.51 L305.03 755.07 L305.26 755.64 L305.47 756.21 L305.66 756.77 L305.84 757.34 L306.01 757.91 L306.16 758.47 L306.30 759.04 L306.43 759.60 L306.54 760.16 L306.64 760.72 L306.73 761.28 L306.80 761.84 L306.87 762.40 L306.92 762.95 L306.96 763.50 L306.99 764.05 L307.01 764.59 L307.02 765.13 L307.02 765.67 L307.00 766.20 L306.98 766.73 L306.95 767.26 L306.92 767.78 L306.87 768.30 L306.81 768.81 L306.75 769.32 L306.68 769.82 L306.60 770.31 L306.52 770.81 L308.48 771.19 L308.59 770.68 L308.69 770.16 L308.78 769.62 L308.87 769.09 L308.95 768.54 L309.02 767.99 L309.08 767.44 L309.13 766.88 L309.17 766.31 L309.21 765.74 L309.23 765.16 L309.24 764.58 L309.24 763.99 L309.23 763.40 L309.21 762.80 L309.17 762.20 L309.13 761.60 L309.07 760.99 L308.99 760.38 L308.91 759.76 L308.80 759.14 L308.69 758.52 L308.56 757.90 L308.41 757.28 L308.25 756.65 L308.08 756.02 L307.89 755.39 L307.68 754.76 L307.45 754.13 L307.21 753.49 L306.78 752.45 L306.28 751.42 L305.73 750.43 L305.12 749.48 L304.46 748.56 L303.75 747.67 L302.98 746.83 L302.17 746.03 L301.31 745.27 L300.40 744.54 L299.45 743.86 L298.46 743.23 L297.42 742.63 L296.34 742.08 L295.23 741.58 L294.08 741.12 L292.89 740.70 L291.66 740.33 L290.41 740.00 L289.12 739.72 L287.79 739.49 L286.44 739.30 L285.06 739.16 L283.65 739.07 L282.22 739.03 L280.76 739.04 L279.27 739.09 L277.76 739.20 L276.23 739.36 L274.63 739.57 L272.58 739.99 L270.59 740.37 L268.60 740.74 L266.62 741.08 L264.64 741.41 L262.66 741.71 L260.70 741.99 L258.74 742.25 L256.78 742.48 L254.84 742.69 L252.90 742.87 L250.97 743.02 L249.06 743.15 L247.15 743.25 L245.26 743.31 L243.38 743.35 L241.52 743.35 L239.66 743.32 L237.83 743.26 L236.01 743.16 L234.20 743.03 L232.42 742.86 L230.65 742.66 L228.90 742.41 L227.17 742.13 L225.46 741.81 L223.78 741.45 L222.11 741.05 L220.47 740.61 L218.81 740.11Z" fill="#c48d87" stroke="#b98079" stroke-width="0.5"/><ellipse cx="190" cy="753" rx="14" ry="4.2" fill="#c08a84"/><path d="M136 745 C140 748 142 752 141 756 L136 757 C133 754 131 751 130 748 Z" fill="#4a4240"/><ellipse cx="132.5" cy="755.4" rx="7" ry="3" fill="#c08a84"/><ellipse cx="123.4" cy="708.6" rx="5.2" ry="5.4" transform="rotate(20 123.4 708.6)" fill="#473f3d"/><path d="M98.3 746.3 C100 738 108 726 117.6 714.3 C126 705 140 698 156.2 697.2 C176 696.5 200 704 211.4 722 C216 730 219.5 736 219.1 742 C218.5 748 211 750.5 200.3 751.2 C185 752.5 165 752 156.2 751.8 C150 753 145 755 139.6 755.1 C134 755 130 754 126.4 753.5 C118 753 106 751 99.9 749.6 C98.5 749 98 747.5 98.3 746.3 Z" fill="#554c4a"/><path d="M160 751.8 C175 740 200 738 216 744 C214 749 208 751 200.3 751.2 C185 752.5 170 752 160 751.8 Z" fill="#4a4240"/><ellipse cx="138.2" cy="716.4" rx="7.6" ry="10" transform="rotate(15 138.2 716.4)" fill="#c08c88"/><ellipse cx="137.5" cy="717.5" rx="3.5" ry="6" transform="rotate(15 137.5 717.5)" fill="#ad7a76"/><ellipse cx="115.3" cy="732.3" rx="3.1" ry="2.5" fill="#1a1414"/><circle cx="98.8" cy="746.2" r="1.6" fill="#c9958f"/><g stroke="#ddd" stroke-width="0.5" fill="none"><path d="M99 738 L86 732"/><path d="M99 740 L87 737"/></g></g>
<clipPath id="inner"><ellipse cx="602.5" cy="714.8" rx="104.6" ry="104.3"/></clipPath>
<rect x="480" y="713.8" width="250" height="130" fill="#d6d6d6" clip-path="url(#inner)"/>
<ellipse cx="602.5" cy="714.7" rx="110.8" ry="110.9" fill="none" stroke="#231815" stroke-width="12.6"/>
<path d="M492.3 703 A110.8 111.2 0 0 1 713.1 708" fill="none" stroke="#29a8e0" stroke-width="4.2"/>
<path d="M713.1 722.5 A110.9 111.3 0 0 1 491.8 720.5" fill="none" stroke="#c8102e" stroke-width="3.9"/>
<path d="M490.4 705 L510 720.9 L502.3 728.6 L490.4 719 L478.5 728.6 L470.6 720.9 Z" fill="#231815" stroke="#231815" stroke-width="1" stroke-linejoin="round"/>
<polyline points="477,722.3 490.4,709.9 503.8,722.4" fill="none" stroke="#c21d2a" stroke-width="4.2"/>
<path d="M712.8 717 L693.7 701.5 L701.2 694.6 L712.8 704 L724.6 694.6 L732 701.5 Z" fill="#231815" stroke="#231815" stroke-width="1" stroke-linejoin="round"/>
<polyline points="699.8,701.1 712.8,712.2 726.4,701.1" fill="none" stroke="#29a8e0" stroke-width="4.2"/>
<g transform="translate(543.5 722.2) scale(0.72) translate(-98.3 -746.3)"><g><path d="M217.19 745.89 L218.95 746.35 L220.77 746.77 L222.60 747.14 L224.44 747.46 L226.30 747.74 L228.17 747.98 L230.05 748.17 L231.95 748.32 L233.85 748.43 L235.77 748.50 L237.70 748.54 L239.63 748.53 L241.58 748.49 L243.53 748.42 L245.49 748.31 L247.46 748.17 L249.43 748.00 L251.41 747.80 L253.39 747.57 L255.39 747.31 L257.38 747.02 L259.38 746.71 L261.38 746.38 L263.38 746.02 L265.39 745.63 L267.40 745.23 L269.41 744.80 L271.41 744.36 L273.42 743.90 L275.37 743.43 L276.75 743.19 L278.16 743.00 L279.54 742.85 L280.90 742.75 L282.24 742.70 L283.55 742.69 L284.83 742.72 L286.09 742.80 L287.32 742.93 L288.51 743.09 L289.68 743.30 L290.82 743.55 L291.92 743.84 L292.99 744.18 L294.02 744.55 L295.02 744.96 L295.98 745.41 L296.90 745.89 L297.79 746.42 L298.63 746.97 L299.44 747.57 L300.21 748.20 L300.93 748.87 L301.61 749.57 L302.25 750.30 L302.85 751.07 L303.40 751.87 L303.91 752.71 L304.37 753.58 L304.79 754.51 L305.03 755.07 L305.26 755.64 L305.47 756.21 L305.66 756.77 L305.84 757.34 L306.01 757.91 L306.16 758.47 L306.30 759.04 L306.43 759.60 L306.54 760.16 L306.64 760.72 L306.73 761.28 L306.80 761.84 L306.87 762.40 L306.92 762.95 L306.96 763.50 L306.99 764.05 L307.01 764.59 L307.02 765.13 L307.02 765.67 L307.00 766.20 L306.98 766.73 L306.95 767.26 L306.92 767.78 L306.87 768.30 L306.81 768.81 L306.75 769.32 L306.68 769.82 L306.60 770.31 L306.52 770.81 L308.48 771.19 L308.59 770.68 L308.69 770.16 L308.78 769.62 L308.87 769.09 L308.95 768.54 L309.02 767.99 L309.08 767.44 L309.13 766.88 L309.17 766.31 L309.21 765.74 L309.23 765.16 L309.24 764.58 L309.24 763.99 L309.23 763.40 L309.21 762.80 L309.17 762.20 L309.13 761.60 L309.07 760.99 L308.99 760.38 L308.91 759.76 L308.80 759.14 L308.69 758.52 L308.56 757.90 L308.41 757.28 L308.25 756.65 L308.08 756.02 L307.89 755.39 L307.68 754.76 L307.45 754.13 L307.21 753.49 L306.78 752.45 L306.28 751.42 L305.73 750.43 L305.12 749.48 L304.46 748.56 L303.75 747.67 L302.98 746.83 L302.17 746.03 L301.31 745.27 L300.40 744.54 L299.45 743.86 L298.46 743.23 L297.42 742.63 L296.34 742.08 L295.23 741.58 L294.08 741.12 L292.89 740.70 L291.66 740.33 L290.41 740.00 L289.12 739.72 L287.79 739.49 L286.44 739.30 L285.06 739.16 L283.65 739.07 L282.22 739.03 L280.76 739.04 L279.27 739.09 L277.76 739.20 L276.23 739.36 L274.63 739.57 L272.58 739.99 L270.59 740.37 L268.60 740.74 L266.62 741.08 L264.64 741.41 L262.66 741.71 L260.70 741.99 L258.74 742.25 L256.78 742.48 L254.84 742.69 L252.90 742.87 L250.97 743.02 L249.06 743.15 L247.15 743.25 L245.26 743.31 L243.38 743.35 L241.52 743.35 L239.66 743.32 L237.83 743.26 L236.01 743.16 L234.20 743.03 L232.42 742.86 L230.65 742.66 L228.90 742.41 L227.17 742.13 L225.46 741.81 L223.78 741.45 L222.11 741.05 L220.47 740.61 L218.81 740.11Z" fill="#c48d87" stroke="#b98079" stroke-width="0.5"/><ellipse cx="190" cy="753" rx="14" ry="4.2" fill="#c08a84"/><path d="M136 745 C140 748 142 752 141 756 L136 757 C133 754 131 751 130 748 Z" fill="#4a4240"/><ellipse cx="132.5" cy="755.4" rx="7" ry="3" fill="#c08a84"/><ellipse cx="123.4" cy="708.6" rx="5.2" ry="5.4" transform="rotate(20 123.4 708.6)" fill="#473f3d"/><path d="M98.3 746.3 C100 738 108 726 117.6 714.3 C126 705 140 698 156.2 697.2 C176 696.5 200 704 211.4 722 C216 730 219.5 736 219.1 742 C218.5 748 211 750.5 200.3 751.2 C185 752.5 165 752 156.2 751.8 C150 753 145 755 139.6 755.1 C134 755 130 754 126.4 753.5 C118 753 106 751 99.9 749.6 C98.5 749 98 747.5 98.3 746.3 Z" fill="#554c4a"/><path d="M160 751.8 C175 740 200 738 216 744 C214 749 208 751 200.3 751.2 C185 752.5 170 752 160 751.8 Z" fill="#4a4240"/><ellipse cx="138.2" cy="716.4" rx="7.6" ry="10" transform="rotate(15 138.2 716.4)" fill="#c08c88"/><ellipse cx="137.5" cy="717.5" rx="3.5" ry="6" transform="rotate(15 137.5 717.5)" fill="#ad7a76"/><ellipse cx="115.3" cy="732.3" rx="3.1" ry="2.5" fill="#1a1414"/><circle cx="98.8" cy="746.2" r="1.6" fill="#c9958f"/><g stroke="#ddd" stroke-width="0.5" fill="none"><path d="M99 738 L86 732"/><path d="M99 740 L87 737"/></g></g></g>
<text x="572.2" y="653.9" font-size="27" font-weight="bold" font-style="normal" fill="#111" textLength="55.93" lengthAdjust="spacing">Fast</text>
<text x="563.5" y="786.9" font-size="27" font-weight="bold" font-style="normal" fill="#111" textLength="76.42" lengthAdjust="spacing">Refed</text>
<path d="M0 -3.0 L129.94113127923995 -3.0 L127.94113127923995 -9.1 L161.94113127923995 0 L127.94113127923995 9.1 L129.94113127923995 3.0 L0 3.0 Z" transform="translate(750.9 700.5) rotate(-18.24)" fill="url(#fadeO)"/>
<path d="M0 -3.0 L130.8723426490821 -3.0 L128.8723426490821 -9.1 L162.8723426490821 0 L128.8723426490821 9.1 L130.8723426490821 3.0 L0 3.0 Z" transform="translate(750.9 732.2) rotate(19.21)" fill="url(#fadeO)"/>
<path d="M953.1 594.9 C965 591 975 590.8 986.2 590.8 C1000 591 1015 592 1027.6 592.4 C1045 593 1065 593 1085.5 594.1 C1100 595 1112 597 1114.4 602.3 C1116 607 1100 618 1093.8 624.7 C1088 632 1090 638 1085.5 642.9 C1080 650 1075 652 1068.9 654.5 C1058 659 1048 660 1039.1 662.7 C1030 666 1025 669 1019.3 672.7 C1008 678 997 682 986.2 685.9 C976 690 968 692 961.4 695.8 C952 701 946 709 939.9 710.7 C935 711 934 708 934.1 705.8 C933 696 933.2 688 933.2 679.3 C932.5 668 931 656 931.6 646.2 C932 636 933 628 934.9 621.4 C937 613 940 608 943.2 604.8 C946 600 949 597 953.1 594.9 Z" fill="#bd968e" stroke="#b08880" stroke-width="0.8"/>
<path d="M1027 596 C1030 615 1027 645 1030 664" fill="none" stroke="#a9827a" stroke-width="1.4" opacity="0.55"/>
<clipPath id="livclip"><path d="M953.1 594.9 C965 591 975 590.8 986.2 590.8 C1000 591 1015 592 1027.6 592.4 C1045 593 1065 593 1085.5 594.1 C1100 595 1112 597 1114.4 602.3 C1116 607 1100 618 1093.8 624.7 C1088 632 1090 638 1085.5 642.9 C1080 650 1075 652 1068.9 654.5 C1058 659 1048 660 1039.1 662.7 C1030 666 1025 669 1019.3 672.7 C1008 678 997 682 986.2 685.9 C976 690 968 692 961.4 695.8 C952 701 946 709 939.9 710.7 C935 711 934 708 934.1 705.8 C933 696 933.2 688 933.2 679.3 C932.5 668 931 656 931.6 646.2 C932 636 933 628 934.9 621.4 C937 613 940 608 943.2 604.8 C946 600 949 597 953.1 594.9 Z"/></clipPath>
<path d="M932 676 C931 694 934 708 940 711.5 C952 704 970 693 998 682" fill="none" stroke="#a98078" stroke-width="5" opacity="0.5" clip-path="url(#livclip)"/>
<path d="M986 596 C966 598 951 614 946.5 632" fill="none" stroke="#d0aca4" stroke-width="1.8" opacity="0.8" stroke-linecap="round"/>
<path d="M945 650 L945.5 661" fill="none" stroke="#d0aca4" stroke-width="1.5" opacity="0.8" stroke-linecap="round"/>
<path d="M1046 592.5 C1054 600 1064 598 1072 604" fill="none" stroke="#d0aca4" stroke-width="1.5" opacity="0.6" stroke-linecap="round"/>
<path d="M1021 592 C1028 594 1032 597 1033.5 602 C1035 597 1040 594 1047 593" fill="#e4ccb4" stroke="#e4ccb4" stroke-width="1.2"/>
<path d="M1033.5 600 C1031 620 1028 642 1030 660 C1031 668 1034 673 1036 677" fill="none" stroke="#e4ccb4" stroke-width="2.4" stroke-linecap="round"/>
<text x="949.6" y="638.8" font-size="22.3" font-weight="bold" font-style="normal" fill="#111" textLength="125.16" lengthAdjust="spacing">Cholesterol</text>
<mask id="vmask" maskUnits="userSpaceOnUse" x="900" y="730" width="250" height="120"><rect x="900" y="730" width="250" height="120" fill="#fff"/><rect x="900" y="730" width="45" height="120" fill="url(#mL)"/><rect x="1080" y="730" width="70" height="58" fill="url(#mU)"/><rect x="1075" y="800" width="75" height="50" fill="url(#mD)"/></mask>
<g mask="url(#vmask)"><path d="M925 772.8 L1027.6 772.3 C1050 770 1075 758 1104 749.5 L1104 784.5 C1096 786 1088 789 1085 793 C1088 798 1100 806 1122 818 L1104 845 C1082 832 1062 824.6 1044 824.6 L925 824.6 Z" fill="#e2a6a8"/><path d="M925 776.5 L1027.6 776.3 C1050 774 1075 762 1104 753.5 L1104 757.5 C1075 766 1050 778 1027.6 780 L925 780 Z" fill="#e9b6b6"/><path d="M925 817.5 L1044 817.5 C1062 817.5 1082 825 1104 836 L1104 840 C1082 829 1062 821.5 1044 821.5 L925 821.5 Z" fill="#e9b6b6"/><path d="M1104 777 C1092 780 1083 786 1080 791 C1083 798 1098 808 1118 823 L1122 818 C1100 806 1088 798 1085 793 C1088 789 1096 786 1104 784.5 Z" fill="#ebbcbc"/><path d="M925 783 L1027.6 783 C1050 780 1075 768 1104 760 L1104 775 C1092 778 1082 785 1077.5 791 C1082 799 1098 810 1116 824 L1110 834 C1086 822 1062 814.8 1044 814.8 L925 814.8 Z" fill="#bc8d8f"/><circle cx="948.1" cy="791.3" r="3.4" fill="#d49ea1" stroke="#e2aeb0" stroke-width="0.8"/><circle cx="973.8" cy="788.8" r="3.4" fill="#d49ea1" stroke="#e2aeb0" stroke-width="0.8"/><circle cx="999.4" cy="789.6" r="3.4" fill="#d49ea1" stroke="#e2aeb0" stroke-width="0.8"/><circle cx="1041.6" cy="786.3" r="3.4" fill="#d49ea1" stroke="#e2aeb0" stroke-width="0.8"/><circle cx="1055.7" cy="790.5" r="3.4" fill="#d49ea1" stroke="#e2aeb0" stroke-width="0.8"/><circle cx="1069.8" cy="778.1" r="3.4" fill="#d49ea1" stroke="#e2aeb0" stroke-width="0.8"/><circle cx="1083" cy="774" r="3.4" fill="#d49ea1" stroke="#e2aeb0" stroke-width="0.8"/><circle cx="961.4" cy="805.4" r="3.4" fill="#d49ea1" stroke="#e2aeb0" stroke-width="0.8"/><circle cx="1010.2" cy="805.4" r="3.4" fill="#d49ea1" stroke="#e2aeb0" stroke-width="0.8"/><circle cx="1041.6" cy="804.5" r="3.4" fill="#d49ea1" stroke="#e2aeb0" stroke-width="0.8"/><circle cx="1064.8" cy="806.2" r="3.4" fill="#d49ea1" stroke="#e2aeb0" stroke-width="0.8"/><circle cx="1078.9" cy="809.5" r="3.4" fill="#d49ea1" stroke="#e2aeb0" stroke-width="0.8"/><circle cx="1085.5" cy="818.6" r="3.4" fill="#d49ea1" stroke="#e2aeb0" stroke-width="0.8"/></g>
<text x="949.6" y="804.6" font-size="22.3" font-weight="bold" font-style="normal" fill="#111" textLength="125.16" lengthAdjust="spacing">Cholesterol</text>
<path d="M1148.2 601.1 H1159.9 V641.3 L1171.3 634.9 L1153.8 677.2 L1136.3 634.9 L1148.2 641.3 Z" fill="#d7191c"/>
<path d="M1147.2 754.9 H1158.7 V796 L1170.7 789 L1153 831.5 L1135.2 789 L1147.2 796 Z" fill="#d7191c"/>
<line x1="5" y1="575.5" x2="1264" y2="575.5" stroke="#231815" stroke-width="2.5"/>
<rect x="3" y="3" width="1263" height="851" fill="none" stroke="#1b2857" stroke-width="4"/>
<rect x="0.5" y="0.5" width="1268" height="856" fill="none" stroke="#6f7899" stroke-width="1"/>
</svg>
</body></html>
